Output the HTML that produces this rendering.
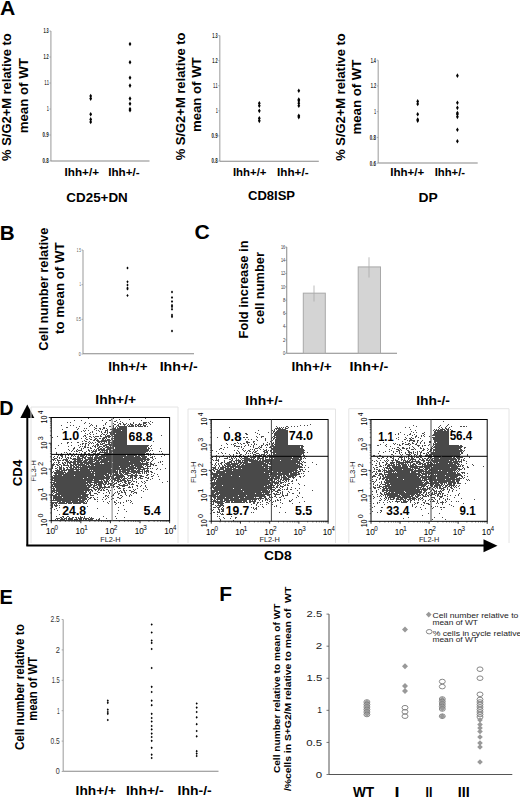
<!DOCTYPE html>
<html><head><meta charset="utf-8"><style>
html,body{margin:0;padding:0;background:#fff;width:520px;height:797px;overflow:hidden}
svg{display:block}
text{font-family:"Liberation Sans",sans-serif}
</style></head><body>
<svg width="520" height="797" viewBox="0 0 520 797">
<text x="0.07" y="14.60" font-size="20" font-weight="bold" fill="#000" textLength="15.29" lengthAdjust="spacingAndGlyphs">A</text>
<text x="-0.18" y="239.60" font-size="20" font-weight="bold" fill="#000" textLength="14.92" lengthAdjust="spacingAndGlyphs">B</text>
<text x="194.53" y="239.30" font-size="20" font-weight="bold" fill="#000" textLength="15.24" lengthAdjust="spacingAndGlyphs">C</text>
<text x="-0.72" y="415.00" font-size="20" font-weight="bold" fill="#000" textLength="14.25" lengthAdjust="spacingAndGlyphs">D</text>
<text x="-0.44" y="603.50" font-size="20" font-weight="bold" fill="#000" textLength="13.32" lengthAdjust="spacingAndGlyphs">E</text>
<text x="219.20" y="601.00" font-size="20" font-weight="bold" fill="#000" textLength="12.76" lengthAdjust="spacingAndGlyphs">F</text>
<line x1="50.9" y1="31" x2="50.9" y2="161" stroke="#aaa" stroke-width="1.2"/>
<line x1="50.9" y1="161" x2="149.5" y2="161" stroke="#888" stroke-width="1.1"/>
<line x1="49.4" y1="31.0" x2="50.9" y2="31.0" stroke="#999" stroke-width="0.8"/>
<text x="43.41" y="33.41" font-size="7" font-weight="bold" fill="#222" textLength="5.32" lengthAdjust="spacingAndGlyphs">1.3</text>
<line x1="49.4" y1="57.00000000000003" x2="50.9" y2="57.00000000000003" stroke="#999" stroke-width="0.8"/>
<text x="43.41" y="59.42" font-size="7" font-weight="bold" fill="#222" textLength="5.34" lengthAdjust="spacingAndGlyphs">1.2</text>
<line x1="49.4" y1="82.99999999999999" x2="50.9" y2="82.99999999999999" stroke="#999" stroke-width="0.8"/>
<text x="44.38" y="85.41" font-size="7" font-weight="bold" fill="#222" textLength="4.31" lengthAdjust="spacingAndGlyphs">1.1</text>
<line x1="49.4" y1="109.00000000000001" x2="50.9" y2="109.00000000000001" stroke="#999" stroke-width="0.8"/>
<text x="47.03" y="111.42" font-size="7" font-weight="bold" fill="#222" textLength="1.65" lengthAdjust="spacingAndGlyphs">1</text>
<line x1="49.4" y1="135.0" x2="50.9" y2="135.0" stroke="#999" stroke-width="0.8"/>
<text x="42.56" y="137.41" font-size="7" font-weight="bold" fill="#222" textLength="6.21" lengthAdjust="spacingAndGlyphs">0.9</text>
<line x1="49.4" y1="161.0" x2="50.9" y2="161.0" stroke="#999" stroke-width="0.8"/>
<text x="42.56" y="163.41" font-size="7" font-weight="bold" fill="#222" textLength="6.18" lengthAdjust="spacingAndGlyphs">0.8</text>
<path d="M90.7 93.7l1.38 2.3l-1.38 2.3l-1.38 -2.3z" fill="#000"/>
<path d="M90.7 96.3l1.38 2.3l-1.38 2.3l-1.38 -2.3z" fill="#000"/>
<path d="M90.7 111.90000000000002l1.38 2.3l-1.38 2.3l-1.38 -2.3z" fill="#000"/>
<path d="M90.7 117.10000000000002l1.38 2.3l-1.38 2.3l-1.38 -2.3z" fill="#000"/>
<path d="M90.7 119.70000000000003l1.38 2.3l-1.38 2.3l-1.38 -2.3z" fill="#000"/>
<path d="M130 41.70000000000002l1.38 2.3l-1.38 2.3l-1.38 -2.3z" fill="#000"/>
<path d="M130 59.900000000000034l1.38 2.3l-1.38 2.3l-1.38 -2.3z" fill="#000"/>
<path d="M130 75.49999999999999l1.38 2.3l-1.38 2.3l-1.38 -2.3z" fill="#000"/>
<path d="M130 83.3l1.38 2.3l-1.38 2.3l-1.38 -2.3z" fill="#000"/>
<path d="M130 96.3l1.38 2.3l-1.38 2.3l-1.38 -2.3z" fill="#000"/>
<path d="M130 101.50000000000001l1.38 2.3l-1.38 2.3l-1.38 -2.3z" fill="#000"/>
<path d="M130 106.70000000000002l1.38 2.3l-1.38 2.3l-1.38 -2.3z" fill="#000"/>
<path d="M130 108.00000000000001l1.38 2.3l-1.38 2.3l-1.38 -2.3z" fill="#000"/>
<text x="11.30" y="160.92" font-size="13" font-weight="bold" fill="#000" textLength="127.63" lengthAdjust="spacingAndGlyphs" transform="rotate(-90 11.30 160.92)">% S/G2+M relative to</text>
<text x="27.80" y="133.27" font-size="13" font-weight="bold" fill="#000" textLength="75.01" lengthAdjust="spacingAndGlyphs" transform="rotate(-90 27.80 133.27)">mean of WT</text>
<text x="64.62" y="175.80" font-size="11.3" font-weight="bold" fill="#000" textLength="34.35" lengthAdjust="spacingAndGlyphs">Ihh+/+</text>
<text x="108.22" y="175.80" font-size="11.3" font-weight="bold" fill="#000" textLength="31.45" lengthAdjust="spacingAndGlyphs">Ihh+/-</text>
<text x="66.35" y="202.20" font-size="12.5" font-weight="bold" fill="#000" textLength="61.45" lengthAdjust="spacingAndGlyphs">CD25+DN</text>
<line x1="219.8" y1="35.6" x2="219.8" y2="161.3" stroke="#aaa" stroke-width="1.2"/>
<line x1="219.8" y1="161.3" x2="318.8" y2="161.3" stroke="#888" stroke-width="1.1"/>
<line x1="218.3" y1="35.599999999999994" x2="219.8" y2="35.599999999999994" stroke="#999" stroke-width="0.8"/>
<text x="212.31" y="38.01" font-size="7" font-weight="bold" fill="#222" textLength="5.32" lengthAdjust="spacingAndGlyphs">1.3</text>
<line x1="218.3" y1="60.68000000000002" x2="219.8" y2="60.68000000000002" stroke="#999" stroke-width="0.8"/>
<text x="212.31" y="63.10" font-size="7" font-weight="bold" fill="#222" textLength="5.34" lengthAdjust="spacingAndGlyphs">1.2</text>
<line x1="218.3" y1="85.75999999999999" x2="219.8" y2="85.75999999999999" stroke="#999" stroke-width="0.8"/>
<text x="213.28" y="88.17" font-size="7" font-weight="bold" fill="#222" textLength="4.31" lengthAdjust="spacingAndGlyphs">1.1</text>
<line x1="218.3" y1="110.84" x2="219.8" y2="110.84" stroke="#999" stroke-width="0.8"/>
<text x="215.93" y="113.26" font-size="7" font-weight="bold" fill="#222" textLength="1.65" lengthAdjust="spacingAndGlyphs">1</text>
<line x1="218.3" y1="135.92000000000002" x2="219.8" y2="135.92000000000002" stroke="#999" stroke-width="0.8"/>
<text x="211.46" y="138.34" font-size="7" font-weight="bold" fill="#222" textLength="6.21" lengthAdjust="spacingAndGlyphs">0.9</text>
<line x1="218.3" y1="161.0" x2="219.8" y2="161.0" stroke="#999" stroke-width="0.8"/>
<text x="211.46" y="163.41" font-size="7" font-weight="bold" fill="#222" textLength="6.18" lengthAdjust="spacingAndGlyphs">0.8</text>
<path d="M259.3 101.016l1.38 2.3l-1.38 2.3l-1.38 -2.3z" fill="#000"/>
<path d="M259.3 103.52400000000002l1.38 2.3l-1.38 2.3l-1.38 -2.3z" fill="#000"/>
<path d="M259.3 108.54l1.38 2.3l-1.38 2.3l-1.38 -2.3z" fill="#000"/>
<path d="M259.3 116.06400000000002l1.38 2.3l-1.38 2.3l-1.38 -2.3z" fill="#000"/>
<path d="M259.3 118.57200000000002l1.38 2.3l-1.38 2.3l-1.38 -2.3z" fill="#000"/>
<path d="M298.8 88.476l1.38 2.3l-1.38 2.3l-1.38 -2.3z" fill="#000"/>
<path d="M298.8 97.25400000000003l1.38 2.3l-1.38 2.3l-1.38 -2.3z" fill="#000"/>
<path d="M298.8 98.508l1.38 2.3l-1.38 2.3l-1.38 -2.3z" fill="#000"/>
<path d="M298.8 101.016l1.38 2.3l-1.38 2.3l-1.38 -2.3z" fill="#000"/>
<path d="M298.8 103.52400000000002l1.38 2.3l-1.38 2.3l-1.38 -2.3z" fill="#000"/>
<path d="M298.8 113.55600000000003l1.38 2.3l-1.38 2.3l-1.38 -2.3z" fill="#000"/>
<path d="M298.8 114.81000000000002l1.38 2.3l-1.38 2.3l-1.38 -2.3z" fill="#000"/>
<text x="185.00" y="160.32" font-size="13" font-weight="bold" fill="#000" textLength="127.83" lengthAdjust="spacingAndGlyphs" transform="rotate(-90 185.00 160.32)">% S/G2+M relative to</text>
<text x="201.00" y="132.07" font-size="13" font-weight="bold" fill="#000" textLength="74.71" lengthAdjust="spacingAndGlyphs" transform="rotate(-90 201.00 132.07)">mean of WT</text>
<text x="232.94" y="176.20" font-size="11.3" font-weight="bold" fill="#000" textLength="33.52" lengthAdjust="spacingAndGlyphs">Ihh+/+</text>
<text x="277.12" y="176.20" font-size="11.3" font-weight="bold" fill="#000" textLength="31.45" lengthAdjust="spacingAndGlyphs">Ihh+/-</text>
<text x="247.97" y="199.60" font-size="12.5" font-weight="bold" fill="#000" textLength="47.08" lengthAdjust="spacingAndGlyphs">CD8ISP</text>
<line x1="378.2" y1="60.2" x2="378.2" y2="163" stroke="#aaa" stroke-width="1.2"/>
<line x1="378.2" y1="163" x2="477.7" y2="163" stroke="#888" stroke-width="1.1"/>
<line x1="376.7" y1="60.2" x2="378.2" y2="60.2" stroke="#999" stroke-width="0.8"/>
<text x="370.72" y="62.62" font-size="7" font-weight="bold" fill="#222" textLength="5.20" lengthAdjust="spacingAndGlyphs">1.4</text>
<line x1="376.7" y1="85.94999999999999" x2="378.2" y2="85.94999999999999" stroke="#999" stroke-width="0.8"/>
<text x="370.71" y="88.36" font-size="7" font-weight="bold" fill="#222" textLength="5.34" lengthAdjust="spacingAndGlyphs">1.2</text>
<line x1="376.7" y1="111.69999999999999" x2="378.2" y2="111.69999999999999" stroke="#999" stroke-width="0.8"/>
<text x="374.33" y="114.11" font-size="7" font-weight="bold" fill="#222" textLength="1.65" lengthAdjust="spacingAndGlyphs">1</text>
<line x1="376.7" y1="137.45" x2="378.2" y2="137.45" stroke="#999" stroke-width="0.8"/>
<text x="369.86" y="139.86" font-size="7" font-weight="bold" fill="#222" textLength="6.18" lengthAdjust="spacingAndGlyphs">0.8</text>
<line x1="376.7" y1="163.2" x2="378.2" y2="163.2" stroke="#999" stroke-width="0.8"/>
<text x="369.86" y="165.61" font-size="7" font-weight="bold" fill="#222" textLength="6.20" lengthAdjust="spacingAndGlyphs">0.6</text>
<path d="M417.7 99.09999999999998l1.38 2.3l-1.38 2.3l-1.38 -2.3z" fill="#000"/>
<path d="M417.7 101.67499999999998l1.38 2.3l-1.38 2.3l-1.38 -2.3z" fill="#000"/>
<path d="M417.7 111.975l1.38 2.3l-1.38 2.3l-1.38 -2.3z" fill="#000"/>
<path d="M417.7 117.125l1.38 2.3l-1.38 2.3l-1.38 -2.3z" fill="#000"/>
<path d="M417.7 118.41249999999998l1.38 2.3l-1.38 2.3l-1.38 -2.3z" fill="#000"/>
<path d="M457.4 73.35l1.38 2.3l-1.38 2.3l-1.38 -2.3z" fill="#000"/>
<path d="M457.4 100.38749999999997l1.38 2.3l-1.38 2.3l-1.38 -2.3z" fill="#000"/>
<path d="M457.4 105.53749999999998l1.38 2.3l-1.38 2.3l-1.38 -2.3z" fill="#000"/>
<path d="M457.4 110.68749999999999l1.38 2.3l-1.38 2.3l-1.38 -2.3z" fill="#000"/>
<path d="M457.4 111.975l1.38 2.3l-1.38 2.3l-1.38 -2.3z" fill="#000"/>
<path d="M457.4 114.55l1.38 2.3l-1.38 2.3l-1.38 -2.3z" fill="#000"/>
<path d="M457.4 127.425l1.38 2.3l-1.38 2.3l-1.38 -2.3z" fill="#000"/>
<path d="M457.4 139.0125l1.38 2.3l-1.38 2.3l-1.38 -2.3z" fill="#000"/>
<text x="344.60" y="160.72" font-size="13" font-weight="bold" fill="#000" textLength="127.33" lengthAdjust="spacingAndGlyphs" transform="rotate(-90 344.60 160.72)">% S/G2+M relative to</text>
<text x="360.60" y="134.47" font-size="13" font-weight="bold" fill="#000" textLength="74.81" lengthAdjust="spacingAndGlyphs" transform="rotate(-90 360.60 134.47)">mean of WT</text>
<text x="390.23" y="175.80" font-size="11.3" font-weight="bold" fill="#000" textLength="34.04" lengthAdjust="spacingAndGlyphs">Ihh+/+</text>
<text x="434.65" y="175.80" font-size="11.3" font-weight="bold" fill="#000" textLength="30.41" lengthAdjust="spacingAndGlyphs">Ihh+/-</text>
<text x="418.47" y="202.30" font-size="12.5" font-weight="bold" fill="#000" textLength="19.30" lengthAdjust="spacingAndGlyphs">DP</text>
<line x1="83" y1="250" x2="83" y2="353.8" stroke="#aaa" stroke-width="1.2"/>
<line x1="83" y1="353.8" x2="194" y2="353.8" stroke="#888" stroke-width="1.1"/>
<line x1="81.5" y1="250.0" x2="83" y2="250.0" stroke="#999" stroke-width="0.8"/>
<text x="76.83" y="251.72" font-size="5" fill="#444" textLength="3.99" lengthAdjust="spacingAndGlyphs">1.5</text>
<line x1="81.5" y1="284.6666666666667" x2="83" y2="284.6666666666667" stroke="#999" stroke-width="0.8"/>
<text x="79.50" y="286.39" font-size="5" fill="#444" textLength="1.32" lengthAdjust="spacingAndGlyphs">1</text>
<line x1="81.5" y1="319.3333333333333" x2="83" y2="319.3333333333333" stroke="#999" stroke-width="0.8"/>
<text x="76.24" y="321.06" font-size="5" fill="#444" textLength="4.60" lengthAdjust="spacingAndGlyphs">0.5</text>
<line x1="81.5" y1="354.0" x2="83" y2="354.0" stroke="#999" stroke-width="0.8"/>
<text x="78.86" y="355.73" font-size="5" fill="#444" textLength="1.98" lengthAdjust="spacingAndGlyphs">0</text>
<path d="M127.5 266.5l1.125 1.5l-1.125 1.5l-1.125 -1.5z" fill="#000"/>
<path d="M127.5 280.25l1.125 1.5l-1.125 1.5l-1.125 -1.5z" fill="#000"/>
<path d="M127.5 283.5l1.125 1.5l-1.125 1.5l-1.125 -1.5z" fill="#000"/>
<path d="M127.5 286.5l1.125 1.5l-1.125 1.5l-1.125 -1.5z" fill="#000"/>
<path d="M127.5 287.5l1.125 1.5l-1.125 1.5l-1.125 -1.5z" fill="#000"/>
<path d="M127.5 294.0l1.125 1.5l-1.125 1.5l-1.125 -1.5z" fill="#000"/>
<path d="M172 290.5l1.125 1.5l-1.125 1.5l-1.125 -1.5z" fill="#000"/>
<path d="M172 296.0l1.125 1.5l-1.125 1.5l-1.125 -1.5z" fill="#000"/>
<path d="M172 299.9l1.125 1.5l-1.125 1.5l-1.125 -1.5z" fill="#000"/>
<path d="M172 303.7l1.125 1.5l-1.125 1.5l-1.125 -1.5z" fill="#000"/>
<path d="M172 305.3l1.125 1.5l-1.125 1.5l-1.125 -1.5z" fill="#000"/>
<path d="M172 307.7l1.125 1.5l-1.125 1.5l-1.125 -1.5z" fill="#000"/>
<path d="M172 313.5l1.125 1.5l-1.125 1.5l-1.125 -1.5z" fill="#000"/>
<path d="M172 315.25l1.125 1.5l-1.125 1.5l-1.125 -1.5z" fill="#000"/>
<path d="M172 329.5l1.125 1.5l-1.125 1.5l-1.125 -1.5z" fill="#000"/>
<text x="48.50" y="350.63" font-size="13.2" font-weight="bold" fill="#000" textLength="123.07" lengthAdjust="spacingAndGlyphs" transform="rotate(-90 48.50 350.63)">Cell number relative</text>
<text x="64.30" y="333.91" font-size="13.2" font-weight="bold" fill="#000" textLength="91.45" lengthAdjust="spacingAndGlyphs" transform="rotate(-90 64.30 333.91)">to mean of WT</text>
<text x="108.31" y="370.80" font-size="13" font-weight="bold" fill="#000" textLength="39.33" lengthAdjust="spacingAndGlyphs">Ihh+/+</text>
<text x="159.66" y="370.80" font-size="13" font-weight="bold" fill="#000" textLength="38.01" lengthAdjust="spacingAndGlyphs">Ihh+/-</text>
<line x1="286.75" y1="247" x2="286.75" y2="353.25" stroke="#888" stroke-width="1"/>
<line x1="286.75" y1="353.25" x2="397" y2="353.25" stroke="#888" stroke-width="1"/>
<line x1="285.25" y1="353.25" x2="286.75" y2="353.25" stroke="#888" stroke-width="0.8"/>
<text x="282.94" y="355.05" font-size="5.5" fill="#333" textLength="2.21" lengthAdjust="spacingAndGlyphs">0</text>
<line x1="285.25" y1="339.96875" x2="286.75" y2="339.96875" stroke="#888" stroke-width="0.8"/>
<text x="282.89" y="341.77" font-size="5.5" fill="#333" textLength="2.32" lengthAdjust="spacingAndGlyphs">2</text>
<line x1="285.25" y1="326.6875" x2="286.75" y2="326.6875" stroke="#888" stroke-width="0.8"/>
<text x="283.01" y="328.49" font-size="5.5" fill="#333" textLength="2.10" lengthAdjust="spacingAndGlyphs">4</text>
<line x1="285.25" y1="313.40625" x2="286.75" y2="313.40625" stroke="#888" stroke-width="0.8"/>
<text x="282.89" y="315.21" font-size="5.5" fill="#333" textLength="2.29" lengthAdjust="spacingAndGlyphs">6</text>
<line x1="285.25" y1="300.125" x2="286.75" y2="300.125" stroke="#888" stroke-width="0.8"/>
<text x="282.92" y="301.93" font-size="5.5" fill="#333" textLength="2.25" lengthAdjust="spacingAndGlyphs">8</text>
<line x1="285.25" y1="286.84375" x2="286.75" y2="286.84375" stroke="#888" stroke-width="0.8"/>
<text x="280.91" y="288.64" font-size="5.5" fill="#333" textLength="4.24" lengthAdjust="spacingAndGlyphs">10</text>
<line x1="285.25" y1="273.5625" x2="286.75" y2="273.5625" stroke="#888" stroke-width="0.8"/>
<text x="280.91" y="275.36" font-size="5.5" fill="#333" textLength="4.29" lengthAdjust="spacingAndGlyphs">12</text>
<line x1="285.25" y1="260.28125" x2="286.75" y2="260.28125" stroke="#888" stroke-width="0.8"/>
<text x="280.91" y="262.08" font-size="5.5" fill="#333" textLength="4.20" lengthAdjust="spacingAndGlyphs">14</text>
<line x1="285.25" y1="247.0" x2="286.75" y2="247.0" stroke="#888" stroke-width="0.8"/>
<text x="280.91" y="248.80" font-size="5.5" fill="#333" textLength="4.26" lengthAdjust="spacingAndGlyphs">16</text>
<rect x="303.3" y="293.15234375" width="22" height="60.09765625" fill="#d4d4d4" stroke="#a8a8a8" stroke-width="1"/>
<rect x="358.2" y="266.921875" width="22.3" height="86.328125" fill="#d4d4d4" stroke="#a8a8a8" stroke-width="1"/>
<line x1="314" y1="285.5" x2="314" y2="301.5" stroke="#aaa" stroke-width="0.8"/>
<line x1="369" y1="257.3" x2="369" y2="277.5" stroke="#aaa" stroke-width="0.8"/>
<text x="247.80" y="338.46" font-size="12.8" font-weight="bold" fill="#000" textLength="98.01" lengthAdjust="spacingAndGlyphs" transform="rotate(-90 247.80 338.46)">Fold increase in</text>
<text x="263.70" y="324.20" font-size="12.8" font-weight="bold" fill="#000" textLength="72.10" lengthAdjust="spacingAndGlyphs" transform="rotate(-90 263.70 324.20)">cell number</text>
<text x="291.49" y="371.10" font-size="13" font-weight="bold" fill="#000" textLength="40.16" lengthAdjust="spacingAndGlyphs">Ihh+/+</text>
<text x="349.64" y="371.10" font-size="13" font-weight="bold" fill="#000" textLength="38.53" lengthAdjust="spacingAndGlyphs">Ihh+/-</text>
<defs><filter id="bl" x="0" y="0" width="1" height="1"><feGaussianBlur stdDeviation="0.4"/></filter></defs>
<g filter="url(#bl)"><path d="M88 418h1M113 418h1M145 418h1M111 419h1M119 419h1M129 419h1M74 420h1M81 420h1M102 420h1M109 420h2M116 420h1M141 420h1M114 421h2M120 421h1M150 421h1M67 422h1M70 422h1M85 422h1M106 422h1M117 422h1M122 422h1M133 422h1M143 422h4M148 422h1M152 422h1M84 423h1M89 423h1M105 423h1M113 423h1M119 423h2M123 423h1M126 423h1M130 423h1M133 423h1M139 423h1M143 423h3M149 423h1M91 424h1M105 424h1M114 424h2M118 424h1M120 424h1M123 424h3M128 424h1M130 424h3M135 424h2M138 424h4M143 424h1M146 424h1M150 424h1M61 425h1M70 425h1M73 425h1M90 425h1M92 425h1M96 425h1M103 425h1M113 425h1M117 425h2M124 425h1M127 425h1M129 425h1M131 425h3M135 425h1M137 425h2M140 425h1M143 425h3M79 426h1M89 426h1M96 426h1M109 426h2M113 426h1M116 426h1M118 426h9M128 426h6M135 426h2M138 426h5M144 426h2M147 426h1M66 427h2M76 427h1M94 427h1M103 427h2M113 427h1M115 427h1M117 427h1M119 427h8M78 428h1M84 428h1M86 428h1M95 428h2M99 428h2M103 428h2M106 428h1M112 428h4M117 428h10M62 429h1M77 429h1M94 429h1M100 429h1M102 429h1M107 429h1M110 429h17M83 430h1M85 430h1M88 430h1M96 430h1M98 430h1M105 430h3M112 430h9M122 430h5M81 431h1M84 431h1M92 431h1M99 431h1M101 431h1M105 431h1M107 431h1M111 431h16M90 432h1M92 432h1M101 432h1M104 432h2M107 432h1M109 432h18M85 433h1M89 433h1M96 433h1M102 433h1M107 433h1M110 433h5M116 433h11M87 434h1M90 434h1M93 434h1M101 434h1M103 434h2M106 434h1M110 434h17M84 435h2M100 435h1M105 435h1M107 435h3M111 435h2M114 435h13M161 435h1M57 436h1M83 436h1M85 436h1M89 436h2M93 436h1M95 436h4M100 436h2M105 436h6M112 436h15M52 437h1M86 437h1M91 437h1M94 437h1M103 437h4M108 437h2M112 437h1M114 437h13M81 438h1M85 438h1M89 438h1M95 438h2M99 438h2M102 438h3M106 438h1M111 438h16M86 439h2M90 439h2M94 439h2M97 439h1M102 439h2M105 439h1M107 439h3M111 439h2M114 439h13M84 440h1M93 440h2M96 440h3M101 440h10M112 440h15M82 441h1M85 441h2M89 441h1M97 441h10M108 441h2M112 441h15M153 441h1M67 442h2M71 442h1M77 442h2M88 442h1M90 442h1M92 442h1M95 442h1M98 442h2M101 442h1M104 442h1M106 442h1M108 442h19M61 443h1M67 443h1M82 443h2M85 443h2M89 443h1M91 443h1M93 443h1M97 443h1M100 443h1M102 443h3M108 443h2M111 443h16M80 444h1M82 444h1M85 444h1M88 444h1M96 444h3M100 444h3M105 444h22M58 445h1M71 445h1M78 445h1M85 445h1M88 445h1M93 445h1M95 445h1M97 445h2M103 445h4M109 445h40M151 445h1M68 446h1M80 446h1M82 446h1M84 446h2M92 446h1M94 446h2M97 446h1M99 446h3M103 446h2M106 446h3M110 446h1M112 446h36M150 446h1M74 447h1M79 447h1M84 447h2M87 447h2M90 447h1M95 447h1M98 447h2M102 447h1M105 447h9M115 447h32M148 447h1M55 448h1M73 448h2M81 448h1M83 448h1M90 448h2M97 448h2M100 448h2M103 448h2M107 448h7M115 448h32M148 448h2M151 448h1M160 448h1M68 449h1M73 449h1M77 449h1M81 449h1M88 449h1M94 449h1M96 449h1M98 449h7M106 449h5M113 449h36M69 450h1M72 450h1M76 450h1M78 450h4M88 450h2M91 450h1M93 450h1M95 450h2M98 450h2M101 450h7M109 450h40M150 450h1M152 450h1M71 451h1M74 451h1M76 451h2M82 451h1M86 451h1M89 451h1M92 451h5M100 451h1M102 451h1M104 451h1M106 451h2M109 451h39M149 451h1M159 451h1M161 451h1M56 452h1M64 452h1M66 452h1M79 452h1M84 452h2M91 452h2M95 452h1M99 452h9M109 452h3M113 452h33M56 453h1M61 453h1M67 453h1M69 453h2M73 453h1M76 453h1M81 453h1M84 453h2M88 453h2M93 453h3M97 453h3M104 453h41M146 453h3M150 453h1M153 453h1M162 453h1M56 454h3M60 454h4M67 454h2M70 454h1M75 454h2M79 454h3M84 454h4M89 454h1M92 454h1M94 454h1M96 454h9M106 454h43M151 454h1M58 455h1M60 455h3M65 455h1M68 455h1M71 455h2M74 455h1M78 455h1M80 455h5M86 455h1M88 455h6M95 455h4M101 455h25M127 455h10M138 455h7M148 455h1M150 455h1M164 455h1M54 456h1M57 456h1M61 456h2M65 456h1M71 456h1M73 456h1M75 456h1M77 456h2M80 456h4M85 456h2M90 456h1M92 456h1M95 456h3M99 456h35M135 456h5M141 456h6M152 456h1M154 456h1M161 456h1M53 457h1M57 457h1M59 457h1M62 457h1M65 457h1M67 457h2M70 457h1M77 457h3M82 457h4M87 457h6M94 457h11M106 457h17M124 457h17M142 457h5M150 457h3M54 458h3M59 458h1M61 458h1M66 458h1M68 458h1M70 458h2M73 458h3M77 458h6M84 458h2M88 458h5M94 458h8M103 458h43M147 458h2M152 458h1M155 458h1M52 459h3M57 459h1M63 459h5M72 459h9M82 459h1M85 459h12M98 459h52M153 459h1M53 460h1M55 460h1M57 460h4M62 460h2M65 460h3M69 460h1M74 460h2M77 460h6M84 460h4M89 460h4M94 460h6M101 460h42M144 460h2M147 460h2M152 460h1M58 461h1M66 461h3M70 461h2M73 461h9M83 461h4M88 461h7M96 461h3M100 461h8M109 461h20M130 461h10M141 461h4M146 461h1M151 461h1M160 461h1M162 461h1M54 462h1M56 462h1M58 462h2M62 462h1M64 462h2M67 462h9M77 462h16M95 462h17M113 462h28M142 462h1M146 462h3M150 462h1M158 462h1M160 462h1M53 463h1M58 463h1M62 463h2M65 463h1M67 463h1M69 463h2M73 463h3M77 463h2M80 463h3M84 463h16M101 463h1M104 463h44M150 463h2M154 463h1M52 464h3M56 464h2M59 464h2M63 464h2M67 464h1M70 464h2M73 464h12M86 464h3M90 464h43M134 464h15M150 464h4M162 464h1M52 465h2M57 465h2M61 465h1M63 465h6M70 465h4M75 465h2M78 465h9M88 465h2M91 465h3M95 465h35M131 465h11M143 465h1M146 465h2M150 465h1M153 465h1M155 465h2M52 466h1M55 466h1M59 466h1M61 466h1M68 466h1M70 466h2M73 466h2M76 466h3M80 466h1M82 466h37M120 466h14M135 466h8M145 466h1M147 466h4M52 467h1M57 467h1M59 467h3M63 467h1M66 467h2M69 467h3M73 467h55M129 467h7M137 467h7M147 467h1M52 468h1M55 468h2M59 468h3M63 468h2M67 468h1M70 468h4M75 468h2M78 468h1M80 468h8M89 468h22M112 468h8M121 468h5M127 468h14M143 468h6M150 468h1M152 468h1M157 468h1M165 468h1M57 469h1M59 469h3M63 469h2M66 469h68M136 469h1M138 469h7M147 469h1M156 469h1M160 469h1M55 470h5M61 470h6M68 470h6M76 470h3M80 470h10M91 470h1M93 470h23M117 470h1M119 470h2M122 470h8M131 470h5M137 470h3M142 470h1M144 470h1M146 470h3M53 471h1M56 471h7M64 471h1M68 471h50M119 471h7M127 471h16M144 471h5M150 471h2M52 472h1M54 472h12M67 472h24M92 472h2M95 472h23M119 472h2M122 472h7M131 472h9M142 472h1M144 472h1M146 472h1M148 472h1M151 472h2M54 473h10M65 473h42M108 473h4M113 473h1M115 473h3M119 473h3M123 473h1M125 473h6M133 473h2M136 473h1M138 473h3M142 473h1M144 473h1M146 473h1M154 473h1M55 474h2M58 474h36M95 474h14M110 474h2M113 474h6M120 474h3M124 474h4M131 474h2M135 474h2M147 474h2M151 474h1M157 474h1M53 475h9M63 475h11M75 475h19M95 475h9M105 475h4M110 475h1M112 475h12M127 475h11M139 475h3M146 475h2M153 475h1M52 476h1M54 476h51M106 476h8M116 476h9M128 476h1M130 476h3M134 476h3M140 476h4M151 476h2M158 476h1M52 477h35M88 477h22M111 477h3M115 477h8M124 477h1M127 477h1M130 477h3M135 477h2M139 477h2M145 477h2M148 477h1M52 478h31M84 478h26M111 478h9M121 478h1M123 478h4M128 478h3M132 478h1M134 478h2M138 478h1M140 478h3M147 478h2M152 478h1M52 479h1M54 479h39M94 479h10M106 479h3M110 479h1M112 479h4M117 479h4M122 479h3M127 479h1M132 479h1M136 479h1M150 479h1M159 479h1M52 480h47M101 480h1M103 480h2M106 480h2M109 480h1M111 480h2M114 480h5M120 480h6M127 480h4M132 480h1M146 480h2M54 481h32M87 481h5M94 481h9M104 481h5M111 481h2M114 481h1M117 481h5M124 481h3M128 481h1M131 481h1M133 481h2M136 481h1M141 481h1M144 481h1M167 481h1M52 482h3M56 482h47M104 482h3M108 482h1M112 482h2M116 482h1M118 482h1M122 482h1M124 482h2M128 482h3M136 482h1M142 482h1M145 482h1M162 482h1M53 483h35M89 483h2M94 483h3M98 483h6M105 483h2M108 483h5M114 483h3M120 483h1M125 483h2M128 483h2M132 483h1M138 483h1M144 483h1M52 484h34M87 484h2M90 484h3M94 484h1M96 484h6M103 484h3M107 484h2M110 484h2M113 484h2M118 484h2M123 484h2M127 484h1M129 484h1M131 484h3M52 485h1M54 485h38M93 485h4M98 485h4M104 485h1M110 485h4M119 485h9M136 485h2M141 485h1M145 485h1M52 486h35M88 486h3M93 486h2M97 486h1M99 486h3M104 486h2M108 486h2M113 486h2M116 486h3M122 486h3M129 486h1M132 486h1M137 486h1M140 486h1M145 486h1M53 487h1M55 487h35M91 487h3M95 487h3M99 487h11M111 487h1M113 487h1M117 487h1M119 487h1M128 487h3M132 487h1M146 487h1M52 488h3M56 488h33M93 488h2M97 488h4M102 488h1M104 488h1M118 488h3M123 488h2M137 488h1M143 488h1M53 489h2M56 489h36M94 489h3M98 489h2M101 489h1M103 489h1M106 489h2M114 489h1M123 489h1M133 489h1M135 489h1M145 489h1M147 489h1M52 490h38M91 490h2M95 490h1M98 490h1M100 490h2M103 490h2M108 490h1M110 490h1M120 490h1M123 490h2M126 490h1M129 490h2M134 490h1M141 490h1M52 491h3M56 491h28M85 491h2M88 491h1M90 491h1M92 491h1M97 491h1M108 491h1M117 491h1M119 491h1M121 491h1M124 491h1M131 491h3M143 491h1M52 492h1M54 492h3M58 492h29M89 492h2M98 492h2M106 492h1M109 492h1M115 492h1M117 492h1M121 492h2M124 492h2M131 492h1M134 492h3M53 493h1M56 493h30M89 493h2M94 493h3M103 493h1M109 493h1M114 493h1M118 493h2M125 493h1M133 493h1M136 493h1M52 494h1M55 494h34M90 494h1M97 494h1M113 494h1M118 494h1M125 494h1M130 494h1M52 495h5M58 495h2M61 495h20M82 495h6M90 495h4M105 495h2M108 495h1M112 495h2M120 495h2M126 495h1M129 495h1M131 495h1M53 496h35M105 496h1M107 496h1M111 496h1M122 496h1M129 496h1M53 497h9M63 497h23M87 497h2M90 497h2M93 497h1M97 497h1M103 497h1M108 497h1M117 497h2M121 497h1M141 497h1M53 498h25M79 498h8M89 498h2M94 498h1M106 498h1M112 498h2M119 498h2M53 499h1M55 499h26M82 499h5M88 499h1M94 499h2M97 499h1M102 499h1M105 499h1M111 499h1M52 500h33M87 500h1M116 500h1M126 500h1M128 500h1M130 500h1M57 501h4M62 501h9M72 501h6M79 501h5M85 501h1M87 501h1M97 501h1M103 501h1M109 501h1M114 501h1M126 501h1M131 501h1M52 502h6M59 502h6M66 502h19M86 502h1M107 502h1M114 502h2M118 502h1M120 502h1M123 502h1M130 502h1M52 503h2M55 503h2M58 503h9M68 503h4M73 503h8M83 503h4M108 503h1M116 503h1M120 503h1M132 503h1M52 504h1M54 504h1M56 504h1M115 504h1M52 505h1M54 505h4M59 505h1M123 505h1M52 506h1M55 506h2M87 506h1M52 507h1M59 507h1M118 507h1M56 508h1M97 508h1M54 509h1M124 509h1M57 510h1M118 510h1M126 511h1M117 513h1M59 514h1M56 516h1M62 516h2M67 516h2M80 516h1M84 516h1M103 516h1M115 516h1M60 517h2M63 517h1M66 517h1M69 517h1M72 517h2M75 517h2M78 517h1M80 517h3M84 517h1M89 517h1M91 517h1M124 517h1M56 518h4M61 518h2M64 518h3M68 518h5M76 518h1M78 518h4M83 518h6M90 518h4M99 518h1M106 518h1M116 518h1M55 519h1M57 519h1M60 519h5M66 519h1M68 519h5M74 519h4M79 519h3M83 519h1M85 519h2M88 519h5M96 519h1M98 519h2M310 424h1M300 425h1M304 425h1M307 425h1M276 426h1M286 426h2M291 426h1M294 426h1M297 426h1M229 427h1M277 427h1M279 427h1M281 427h1M283 427h1M285 427h1M288 427h1M275 428h6M282 428h1M285 428h3M274 429h1M276 429h1M278 429h8M258 430h1M272 430h1M274 430h1M277 430h11M273 431h2M276 431h12M255 432h1M268 432h1M273 432h1M275 432h13M245 433h2M257 433h1M272 433h1M274 433h14M246 434h2M259 434h1M274 434h14M274 435h14M256 436h1M261 436h3M273 436h2M276 436h12M217 437h1M243 437h2M246 437h2M257 437h1M261 437h1M272 437h1M274 437h14M265 438h1M271 438h1M273 438h2M276 438h12M245 439h1M248 439h1M251 439h1M256 439h1M265 439h1M273 439h1M275 439h13M257 440h1M265 440h1M272 440h1M275 440h13M246 441h2M253 441h2M270 441h1M275 441h13M237 442h1M246 442h4M253 442h1M267 442h1M271 442h1M273 442h1M275 442h13M226 443h1M234 443h2M238 443h1M240 443h1M243 443h2M247 443h1M254 443h1M263 443h1M269 443h1M272 443h2M275 443h13M227 444h1M231 444h1M233 444h1M241 444h1M248 444h1M251 444h1M254 444h1M256 444h1M263 444h1M266 444h2M269 444h1M272 444h1M274 444h14M221 445h1M234 445h2M245 445h1M248 445h1M253 445h1M261 445h2M265 445h1M267 445h1M272 445h2M275 445h28M234 446h1M236 446h4M241 446h1M244 446h1M250 446h1M253 446h1M259 446h1M261 446h1M270 446h1M272 446h28M301 446h3M224 447h1M227 447h1M241 447h1M253 447h1M258 447h1M260 447h2M266 447h1M269 447h2M273 447h27M301 447h2M220 448h2M238 448h1M243 448h1M255 448h3M259 448h1M271 448h32M219 449h1M223 449h1M242 449h1M250 449h1M252 449h1M254 449h1M260 449h1M263 449h1M266 449h1M272 449h32M212 450h1M234 450h1M237 450h1M243 450h1M245 450h1M248 450h2M254 450h1M257 450h1M264 450h3M268 450h1M270 450h2M273 450h32M216 451h1M238 451h1M244 451h1M247 451h1M249 451h2M253 451h1M255 451h2M263 451h2M266 451h2M270 451h1M273 451h31M221 452h1M236 452h1M239 452h1M246 452h1M252 452h1M254 452h2M264 452h4M271 452h34M307 452h1M218 453h1M222 453h1M225 453h1M236 453h2M239 453h1M246 453h1M248 453h1M250 453h1M252 453h1M256 453h3M264 453h1M267 453h1M271 453h1M273 453h2M276 453h28M229 454h1M233 454h1M240 454h2M245 454h1M253 454h3M259 454h1M261 454h4M266 454h1M269 454h1M271 454h1M273 454h29M303 454h1M216 455h1M223 455h1M230 455h1M233 455h1M236 455h1M239 455h2M243 455h1M248 455h1M250 455h1M253 455h1M255 455h7M263 455h3M267 455h34M303 455h2M215 456h1M222 456h1M226 456h1M229 456h1M232 456h2M235 456h7M243 456h3M247 456h2M253 456h3M258 456h4M263 456h3M269 456h2M272 456h29M306 456h1M212 457h1M216 457h1M219 457h1M227 457h1M229 457h1M231 457h1M233 457h1M235 457h1M239 457h1M241 457h1M244 457h4M250 457h6M257 457h3M262 457h2M265 457h3M269 457h23M293 457h9M304 457h1M216 458h1M224 458h4M231 458h2M234 458h1M236 458h1M240 458h1M242 458h8M251 458h1M253 458h2M257 458h7M265 458h1M269 458h1M271 458h2M274 458h25M300 458h2M303 458h1M305 458h1M212 459h1M216 459h1M218 459h1M229 459h2M232 459h1M236 459h1M238 459h1M241 459h1M244 459h10M255 459h1M257 459h2M260 459h1M262 459h2M265 459h26M292 459h10M213 460h1M215 460h4M224 460h1M231 460h2M235 460h6M242 460h16M259 460h2M262 460h18M281 460h17M299 460h2M218 461h1M224 461h1M229 461h3M233 461h2M236 461h1M238 461h3M242 461h1M244 461h4M249 461h51M301 461h1M303 461h1M216 462h1M221 462h2M224 462h1M227 462h5M234 462h1M236 462h1M238 462h10M251 462h13M265 462h4M270 462h30M302 462h1M304 462h2M312 462h1M215 463h1M218 463h1M220 463h2M225 463h5M231 463h8M240 463h2M243 463h23M267 463h29M297 463h5M212 464h1M215 464h1M218 464h1M221 464h1M224 464h1M226 464h12M239 464h2M242 464h2M245 464h23M269 464h29M299 464h1M301 464h2M316 464h1M214 465h1M216 465h1M219 465h1M222 465h1M224 465h2M227 465h4M232 465h4M237 465h3M241 465h21M263 465h5M271 465h29M302 465h1M305 465h1M215 466h1M219 466h1M222 466h2M225 466h77M212 467h4M218 467h1M220 467h6M227 467h2M230 467h4M235 467h29M265 467h3M269 467h34M304 467h1M308 467h1M213 468h3M218 468h1M220 468h4M225 468h7M233 468h3M238 468h3M242 468h56M299 468h1M212 469h2M215 469h3M219 469h5M225 469h43M269 469h28M299 469h4M305 469h1M213 470h2M217 470h3M223 470h9M233 470h65M300 470h1M302 470h1M214 471h1M216 471h56M273 471h21M295 471h2M298 471h3M303 471h2M308 471h1M212 472h1M216 472h9M226 472h38M265 472h12M278 472h3M282 472h10M293 472h6M212 473h57M270 473h19M290 473h7M298 473h2M301 473h1M303 473h1M212 474h6M219 474h70M290 474h10M213 475h18M232 475h37M270 475h1M272 475h5M278 475h4M283 475h2M286 475h11M304 475h1M213 476h8M222 476h17M240 476h31M272 476h8M281 476h1M283 476h3M287 476h7M295 476h1M299 476h2M303 476h1M212 477h5M218 477h52M271 477h3M275 477h5M281 477h6M288 477h3M292 477h3M300 477h1M212 478h2M215 478h65M281 478h1M283 478h6M293 478h1M212 479h4M217 479h51M269 479h4M274 479h3M278 479h1M280 479h2M283 479h7M296 479h1M212 480h1M214 480h1M216 480h57M274 480h1M277 480h2M280 480h1M282 480h2M285 480h2M288 480h1M292 480h1M296 480h1M214 481h1M216 481h54M272 481h3M276 481h1M278 481h3M284 481h1M286 481h1M288 481h1M291 481h2M212 482h59M272 482h7M280 482h4M285 482h1M212 483h59M272 483h1M274 483h5M280 483h2M288 483h2M292 483h1M298 483h1M212 484h57M270 484h3M275 484h1M277 484h1M279 484h1M283 484h1M285 484h1M287 484h1M299 484h1M212 485h3M216 485h6M223 485h44M268 485h7M277 485h2M280 485h1M284 485h2M287 485h2M304 485h1M212 486h2M215 486h49M265 486h7M273 486h1M276 486h2M280 486h4M212 487h63M276 487h2M279 487h1M282 487h1M287 487h1M291 487h1M213 488h20M234 488h38M275 488h1M280 488h1M287 488h1M295 488h1M299 488h1M214 489h27M242 489h25M268 489h1M270 489h5M278 489h2M282 489h1M284 489h1M286 489h2M290 489h2M212 490h56M269 490h1M271 490h1M273 490h2M277 490h4M297 490h1M312 490h1M212 491h6M219 491h24M244 491h17M262 491h8M271 491h2M275 491h3M282 491h1M288 491h1M212 492h3M216 492h54M271 492h1M277 492h2M280 492h1M282 492h1M289 492h1M299 492h1M212 493h2M215 493h40M256 493h6M263 493h1M265 493h4M273 493h2M276 493h1M280 493h1M282 493h1M287 493h1M292 493h2M299 493h1M212 494h7M220 494h51M274 494h6M282 494h1M287 494h1M212 495h4M217 495h1M219 495h19M239 495h7M247 495h18M267 495h3M275 495h1M282 495h2M285 495h3M297 495h1M212 496h54M269 496h1M271 496h1M274 496h2M281 496h1M283 496h1M298 496h1M213 497h3M217 497h8M226 497h7M234 497h10M245 497h9M255 497h1M259 497h3M264 497h2M269 497h2M272 497h1M276 497h1M279 497h2M296 497h1M302 497h1M214 498h2M217 498h22M240 498h24M265 498h2M268 498h1M284 498h1M212 499h1M214 499h1M216 499h7M224 499h5M230 499h27M258 499h1M260 499h1M265 499h3M269 499h1M271 499h1M277 499h1M280 499h1M292 499h1M213 500h3M217 500h1M220 500h3M224 500h23M249 500h2M252 500h1M254 500h2M259 500h1M262 500h1M265 500h1M267 500h1M270 500h1M275 500h1M277 500h2M280 500h1M289 500h1M291 500h1M212 501h13M226 501h4M231 501h2M234 501h8M243 501h4M249 501h7M262 501h1M269 501h1M273 501h1M275 501h1M289 501h2M304 501h1M213 502h1M215 502h8M225 502h5M231 502h14M246 502h2M249 502h2M253 502h2M257 502h2M260 502h1M266 502h2M272 502h1M280 502h1M299 502h1M213 503h1M217 503h7M253 503h2M257 503h1M268 503h1M282 503h1M292 503h1M212 504h2M218 504h1M220 504h3M251 504h1M256 504h1M260 504h1M262 504h1M266 504h1M272 504h1M215 505h1M217 505h7M256 505h1M276 505h1M216 506h1M219 506h2M223 506h1M258 506h1M262 506h1M274 506h1M276 506h1M213 507h3M217 507h3M222 507h1M251 507h1M253 507h1M256 507h1M263 507h1M280 507h1M218 508h1M221 508h1M223 508h1M253 508h1M255 508h2M213 509h1M218 509h2M221 509h3M254 509h1M256 509h1M212 510h1M219 510h1M222 510h2M217 511h1M219 511h1M221 511h3M213 512h2M217 512h3M251 512h1M253 512h1M279 512h1M285 512h1M220 513h1M222 513h1M217 514h1M221 514h3M217 516h1M219 516h1M231 516h1M223 517h1M235 517h2M219 518h1M224 518h1M230 518h1M235 518h1M220 519h1M220 520h1M233 520h1M443 421h1M448 424h1M413 425h1M440 425h1M447 425h1M416 426h1M439 426h1M446 426h1M451 426h1M460 426h2M463 426h2M466 426h1M405 427h1M409 427h1M438 427h1M441 427h1M445 427h1M449 427h1M439 428h1M442 428h1M445 428h2M448 428h1M410 429h1M434 429h1M436 429h1M438 429h1M440 429h5M446 429h3M450 429h1M415 430h1M433 430h1M435 430h8M444 430h2M447 430h2M451 430h2M411 431h1M434 431h2M437 431h12M400 432h1M413 432h1M416 432h1M424 432h1M434 432h15M398 433h1M410 433h1M422 433h2M434 433h15M395 434h1M398 434h1M404 434h1M409 434h2M414 434h1M424 434h1M433 434h16M407 435h1M412 435h1M416 435h1M421 435h1M423 435h1M432 435h17M415 436h2M421 436h1M424 436h1M429 436h1M435 436h14M398 437h1M405 437h1M411 437h1M415 437h1M418 437h1M432 437h17M396 438h1M406 438h1M409 438h2M412 438h2M420 438h1M433 438h16M398 439h1M404 439h2M410 439h2M433 439h16M407 440h1M409 440h6M417 440h2M422 440h1M434 440h15M402 441h1M409 441h1M413 441h2M417 441h1M421 441h1M429 441h2M434 441h15M383 442h1M405 442h1M412 442h1M417 442h1M420 442h1M424 442h1M429 442h2M434 442h2M437 442h12M393 443h1M395 443h1M402 443h2M408 443h2M412 443h2M416 443h1M420 443h1M424 443h1M433 443h1M435 443h14M380 444h1M386 444h1M394 444h1M397 444h1M399 444h1M402 444h1M405 444h4M410 444h1M415 444h2M429 444h1M433 444h16M377 445h2M385 445h1M399 445h2M409 445h1M417 445h3M422 445h1M424 445h2M428 445h1M433 445h1M435 445h24M460 445h2M386 446h1M390 446h1M412 446h1M418 446h1M422 446h1M432 446h1M434 446h29M397 447h2M402 447h2M409 447h1M413 447h1M420 447h1M431 447h1M433 447h29M464 447h2M392 448h1M394 448h1M399 448h1M402 448h3M406 448h2M409 448h1M414 448h1M420 448h2M423 448h1M427 448h1M431 448h2M435 448h26M464 448h1M389 449h1M396 449h3M400 449h1M406 449h1M411 449h3M415 449h1M423 449h2M428 449h1M430 449h2M433 449h26M460 449h2M391 450h1M398 450h2M401 450h1M407 450h2M422 450h2M427 450h1M430 450h2M433 450h30M464 450h1M379 451h1M385 451h1M389 451h1M393 451h1M396 451h2M399 451h1M408 451h2M413 451h1M417 451h1M419 451h1M421 451h1M429 451h2M433 451h1M435 451h27M463 451h1M383 452h1M393 452h1M399 452h1M401 452h1M405 452h1M408 452h4M413 452h1M415 452h1M417 452h1M420 452h2M427 452h2M431 452h29M461 452h2M378 453h1M395 453h1M399 453h1M405 453h1M409 453h1M411 453h1M413 453h1M417 453h1M420 453h1M423 453h2M426 453h1M428 453h1M431 453h29M461 453h2M391 454h2M400 454h1M402 454h1M406 454h5M414 454h2M417 454h1M420 454h1M426 454h2M429 454h32M467 454h1M373 455h2M379 455h2M393 455h1M401 455h1M408 455h2M411 455h1M414 455h1M416 455h1M419 455h3M425 455h7M433 455h27M467 455h1M382 456h1M387 456h1M390 456h1M397 456h2M400 456h1M408 456h1M410 456h2M419 456h2M425 456h2M428 456h13M442 456h11M454 456h6M377 457h1M382 457h2M387 457h1M390 457h2M393 457h1M399 457h4M404 457h1M406 457h1M408 457h1M411 457h2M414 457h1M416 457h3M420 457h2M428 457h4M434 457h18M453 457h2M456 457h7M469 457h1M378 458h2M381 458h1M386 458h1M392 458h2M398 458h1M401 458h1M404 458h1M408 458h2M411 458h3M419 458h1M422 458h1M424 458h2M427 458h2M430 458h1M432 458h7M440 458h16M457 458h3M464 458h1M387 459h1M393 459h1M395 459h1M398 459h1M401 459h2M404 459h1M408 459h1M410 459h6M419 459h2M422 459h2M426 459h2M429 459h1M431 459h2M434 459h23M458 459h2M461 459h1M463 459h1M372 460h1M376 460h1M380 460h1M384 460h1M386 460h1M388 460h1M391 460h3M395 460h3M401 460h1M403 460h3M407 460h1M409 460h2M412 460h1M415 460h1M418 460h1M421 460h4M426 460h4M431 460h18M450 460h4M455 460h2M458 460h1M461 460h1M463 460h2M374 461h1M377 461h1M385 461h1M387 461h1M392 461h1M396 461h4M403 461h1M405 461h5M411 461h9M423 461h2M428 461h1M430 461h1M432 461h20M453 461h9M466 461h1M379 462h1M382 462h2M386 462h1M390 462h5M396 462h17M416 462h5M423 462h1M426 462h6M433 462h5M439 462h19M459 462h1M461 462h1M376 463h1M379 463h1M386 463h2M390 463h4M396 463h1M398 463h6M405 463h1M407 463h1M410 463h1M413 463h2M416 463h2M419 463h4M424 463h2M427 463h2M430 463h3M434 463h1M436 463h12M449 463h4M454 463h5M466 463h1M372 464h1M379 464h1M385 464h2M388 464h2M391 464h1M393 464h2M396 464h4M401 464h6M408 464h1M410 464h1M412 464h4M418 464h3M422 464h4M427 464h29M457 464h3M461 464h1M472 464h1M375 465h2M380 465h1M383 465h1M385 465h1M387 465h8M396 465h1M398 465h3M402 465h5M408 465h1M410 465h4M415 465h2M422 465h1M424 465h33M458 465h1M460 465h1M462 465h2M473 465h1M379 466h3M387 466h3M392 466h9M402 466h6M409 466h23M433 466h28M462 466h1M467 466h1M483 466h1M373 467h1M376 467h2M383 467h1M385 467h3M389 467h2M392 467h16M410 467h8M419 467h4M424 467h6M431 467h19M451 467h7M463 467h1M467 467h2M374 468h1M384 468h1M386 468h6M393 468h18M412 468h1M414 468h6M423 468h1M425 468h5M431 468h29M462 468h1M464 468h1M374 469h1M376 469h2M379 469h1M382 469h1M384 469h1M388 469h1M390 469h3M394 469h8M403 469h11M415 469h1M418 469h5M424 469h4M429 469h28M458 469h4M464 469h1M378 470h3M383 470h4M388 470h25M414 470h10M425 470h2M428 470h10M439 470h2M442 470h14M457 470h1M459 470h1M373 471h2M376 471h1M378 471h3M382 471h1M384 471h1M386 471h9M396 471h14M411 471h19M431 471h22M454 471h1M456 471h1M458 471h1M372 472h1M376 472h1M384 472h8M393 472h1M395 472h1M397 472h13M411 472h5M418 472h4M423 472h1M425 472h22M448 472h8M457 472h1M461 472h4M375 473h1M377 473h1M379 473h3M384 473h1M388 473h32M421 473h35M457 473h3M462 473h1M464 473h1M467 473h1M375 474h2M379 474h4M384 474h37M422 474h5M428 474h2M431 474h3M435 474h1M437 474h24M373 475h2M378 475h2M382 475h2M385 475h1M387 475h30M418 475h5M425 475h2M428 475h1M430 475h15M446 475h16M464 475h1M372 476h4M380 476h1M382 476h2M385 476h35M421 476h37M461 476h2M467 476h1M372 477h1M377 477h1M380 477h1M383 477h14M398 477h21M420 477h16M437 477h12M450 477h7M459 477h1M462 477h1M464 477h1M379 478h2M382 478h3M386 478h35M422 478h5M428 478h8M437 478h18M456 478h6M463 478h1M372 479h1M376 479h1M379 479h1M382 479h2M385 479h3M389 479h14M404 479h17M422 479h1M424 479h21M446 479h14M466 479h1M468 479h1M376 480h1M385 480h42M429 480h22M452 480h3M456 480h4M467 480h1M469 480h1M372 481h2M375 481h1M381 481h1M384 481h1M386 481h36M424 481h1M426 481h2M429 481h4M434 481h3M438 481h17M456 481h3M374 482h1M379 482h1M381 482h1M384 482h40M425 482h4M430 482h17M448 482h8M457 482h2M373 483h1M381 483h1M385 483h4M390 483h33M424 483h15M440 483h3M444 483h1M446 483h1M448 483h4M453 483h3M457 483h4M465 483h1M373 484h1M377 484h1M380 484h1M382 484h4M387 484h40M430 484h4M435 484h5M441 484h2M444 484h1M447 484h5M453 484h2M375 485h1M377 485h1M379 485h1M385 485h5M391 485h35M428 485h1M430 485h3M434 485h8M443 485h1M445 485h3M449 485h6M456 485h1M459 485h1M373 486h1M379 486h3M383 486h36M421 486h4M426 486h2M431 486h2M434 486h4M439 486h2M442 486h1M445 486h2M448 486h2M451 486h1M453 486h1M455 486h1M458 486h1M373 487h3M377 487h3M382 487h2M385 487h2M388 487h34M423 487h1M427 487h1M429 487h2M433 487h2M436 487h2M439 487h2M443 487h3M447 487h1M450 487h2M454 487h1M456 487h1M374 488h2M380 488h1M383 488h33M417 488h2M420 488h1M422 488h4M427 488h3M432 488h1M435 488h1M437 488h1M439 488h5M447 488h1M451 488h2M459 488h1M378 489h1M382 489h3M386 489h2M389 489h39M429 489h1M432 489h2M441 489h1M443 489h2M447 489h1M449 489h1M453 489h1M376 490h1M382 490h38M421 490h1M423 490h4M431 490h1M433 490h2M436 490h1M440 490h1M442 490h2M449 490h1M452 490h1M456 490h1M372 491h1M376 491h1M382 491h2M386 491h2M389 491h15M405 491h17M424 491h2M430 491h1M434 491h3M438 491h4M448 491h1M452 491h1M376 492h1M380 492h1M384 492h3M388 492h2M391 492h3M395 492h10M406 492h16M423 492h2M426 492h1M428 492h2M432 492h1M434 492h1M436 492h1M439 492h1M441 492h1M448 492h1M380 493h2M384 493h1M386 493h32M419 493h2M423 493h1M426 493h1M428 493h1M431 493h2M434 493h3M438 493h3M442 493h2M459 493h1M372 494h1M377 494h1M381 494h2M384 494h14M399 494h16M416 494h4M421 494h2M425 494h2M429 494h1M431 494h4M437 494h2M440 494h1M442 494h1M447 494h1M458 494h1M380 495h1M383 495h1M385 495h1M387 495h13M401 495h9M411 495h3M415 495h1M417 495h4M422 495h2M425 495h1M427 495h2M430 495h2M435 495h1M437 495h2M442 495h1M444 495h2M450 495h1M455 495h1M458 495h1M373 496h1M377 496h1M379 496h1M381 496h1M385 496h1M387 496h1M389 496h12M402 496h11M415 496h4M423 496h4M428 496h1M437 496h1M439 496h4M447 496h1M374 497h1M385 497h2M388 497h7M397 497h14M412 497h3M416 497h2M420 497h1M422 497h1M431 497h4M440 497h2M454 497h1M373 498h1M380 498h1M384 498h1M386 498h1M388 498h1M390 498h1M393 498h2M396 498h3M400 498h3M404 498h3M409 498h7M418 498h2M421 498h2M434 498h1M439 498h1M443 498h1M447 498h1M461 498h1M381 499h1M385 499h1M388 499h1M390 499h4M396 499h8M405 499h1M407 499h4M412 499h3M416 499h1M418 499h1M420 499h1M423 499h1M429 499h1M431 499h2M435 499h1M439 499h1M445 499h1M447 499h1M449 499h1M474 499h1M379 500h2M384 500h1M387 500h1M396 500h1M400 500h1M403 500h3M408 500h1M410 500h2M414 500h1M418 500h1M422 500h1M425 500h1M428 500h1M433 500h1M437 500h1M445 500h1M389 501h1M392 501h1M395 501h5M401 501h1M403 501h5M410 501h1M425 501h1M430 501h1M432 501h3M437 501h1M442 501h1M446 501h1M451 501h1M456 501h1M458 501h1M377 502h1M379 502h1M383 502h1M387 502h1M390 502h1M397 502h1M401 502h6M410 502h1M414 502h1M417 502h2M423 502h2M437 502h1M440 502h4M445 502h1M373 503h1M377 503h1M415 503h1M417 503h1M424 503h1M426 503h3M436 503h1M438 503h1M442 503h1M463 503h1M384 504h1M412 504h1M414 504h1M421 504h1M428 504h2M442 504h1M449 504h1M412 505h1M423 505h1M451 505h1M374 506h1M412 506h1M416 506h1M431 506h1M435 506h1M437 506h1M453 506h1M372 507h1M381 507h2M415 507h1M420 507h1M433 507h1M440 507h2M443 507h2M425 508h1M432 508h1M421 509h1M441 509h1M380 510h2M372 511h1M381 511h1M377 512h1M380 512h1M428 513h1M439 513h1M422 515h1M408 517h1M434 517h1M442 517h1M403 518h1M432 519h1M445 519h1" stroke="#4a4a4a" stroke-width="1" shape-rendering="crispEdges" transform="translate(0 0.5)"/></g>
<rect x="51.25" y="417.5" width="118.35" height="103.20000000000005" fill="none" stroke="#000" stroke-width="1"/>
<line x1="112.1" y1="417.5" x2="112.1" y2="520.7" stroke="#777" stroke-width="0.9"/>
<line x1="51.25" y1="454.4" x2="169.6" y2="454.4" stroke="#000" stroke-width="1"/>
<line x1="48.75" y1="520.7" x2="51.25" y2="520.7" stroke="#000" stroke-width="0.8"/>
<line x1="51.25" y1="520.7" x2="51.25" y2="523.2" stroke="#000" stroke-width="0.8"/>
<line x1="49.95" y1="512.9334261118694" x2="51.25" y2="512.9334261118694" stroke="#000" stroke-width="0.5"/>
<line x1="60.15672499670804" y1="520.7" x2="60.15672499670804" y2="522.0" stroke="#000" stroke-width="0.5"/>
<line x1="49.95" y1="508.39027162823277" x2="51.25" y2="508.39027162823277" stroke="#000" stroke-width="0.5"/>
<line x1="65.366825124018" y1="520.7" x2="65.366825124018" y2="522.0" stroke="#000" stroke-width="0.5"/>
<line x1="49.95" y1="505.1668522237386" x2="51.25" y2="505.1668522237386" stroke="#000" stroke-width="0.5"/>
<line x1="69.06344999341609" y1="520.7" x2="69.06344999341609" y2="522.0" stroke="#000" stroke-width="0.5"/>
<line x1="49.95" y1="502.66657388813076" x2="51.25" y2="502.66657388813076" stroke="#000" stroke-width="0.5"/>
<line x1="71.93077500329196" y1="520.7" x2="71.93077500329196" y2="522.0" stroke="#000" stroke-width="0.5"/>
<line x1="49.95" y1="500.62369774010205" x2="51.25" y2="500.62369774010205" stroke="#000" stroke-width="0.5"/>
<line x1="74.27355012072606" y1="520.7" x2="74.27355012072606" y2="522.0" stroke="#000" stroke-width="0.5"/>
<line x1="49.95" y1="498.8964705676322" x2="51.25" y2="498.8964705676322" stroke="#000" stroke-width="0.5"/>
<line x1="76.25433825892182" y1="520.7" x2="76.25433825892182" y2="522.0" stroke="#000" stroke-width="0.5"/>
<line x1="49.95" y1="497.4002783356079" x2="51.25" y2="497.4002783356079" stroke="#000" stroke-width="0.5"/>
<line x1="77.97017499012412" y1="520.7" x2="77.97017499012412" y2="522.0" stroke="#000" stroke-width="0.5"/>
<line x1="49.95" y1="496.08054325646543" x2="51.25" y2="496.08054325646543" stroke="#000" stroke-width="0.5"/>
<line x1="79.48365024803603" y1="520.7" x2="79.48365024803603" y2="522.0" stroke="#000" stroke-width="0.5"/>
<text x="45.92" y="534.10" font-size="8.5" fill="#000" textLength="9.15" lengthAdjust="spacingAndGlyphs">10</text>
<text x="54.60" y="530.10" font-size="6.5" fill="#000" textLength="3.49" lengthAdjust="spacingAndGlyphs">0</text>
<text x="47.25" y="526.74" font-size="8.5" fill="#000" textLength="7.92" lengthAdjust="spacingAndGlyphs" transform="rotate(-90 47.25 526.74)">10</text>
<text x="43.05" y="517.58" font-size="6.5" fill="#000" textLength="3.96" lengthAdjust="spacingAndGlyphs" transform="rotate(-90 43.05 517.58)">0</text>
<line x1="48.75" y1="494.90000000000003" x2="51.25" y2="494.90000000000003" stroke="#000" stroke-width="0.8"/>
<line x1="80.8375" y1="520.7" x2="80.8375" y2="523.2" stroke="#000" stroke-width="0.8"/>
<line x1="49.95" y1="487.1334261118693" x2="51.25" y2="487.1334261118693" stroke="#000" stroke-width="0.5"/>
<line x1="89.74422499670806" y1="520.7" x2="89.74422499670806" y2="522.0" stroke="#000" stroke-width="0.5"/>
<line x1="49.95" y1="482.59027162823276" x2="51.25" y2="482.59027162823276" stroke="#000" stroke-width="0.5"/>
<line x1="94.95432512401801" y1="520.7" x2="94.95432512401801" y2="522.0" stroke="#000" stroke-width="0.5"/>
<line x1="49.95" y1="479.3668522237386" x2="51.25" y2="479.3668522237386" stroke="#000" stroke-width="0.5"/>
<line x1="98.65094999341609" y1="520.7" x2="98.65094999341609" y2="522.0" stroke="#000" stroke-width="0.5"/>
<line x1="49.95" y1="476.86657388813074" x2="51.25" y2="476.86657388813074" stroke="#000" stroke-width="0.5"/>
<line x1="101.51827500329196" y1="520.7" x2="101.51827500329196" y2="522.0" stroke="#000" stroke-width="0.5"/>
<line x1="49.95" y1="474.82369774010203" x2="51.25" y2="474.82369774010203" stroke="#000" stroke-width="0.5"/>
<line x1="103.86105012072606" y1="520.7" x2="103.86105012072606" y2="522.0" stroke="#000" stroke-width="0.5"/>
<line x1="49.95" y1="473.0964705676322" x2="51.25" y2="473.0964705676322" stroke="#000" stroke-width="0.5"/>
<line x1="105.84183825892183" y1="520.7" x2="105.84183825892183" y2="522.0" stroke="#000" stroke-width="0.5"/>
<line x1="49.95" y1="471.60027833560787" x2="51.25" y2="471.60027833560787" stroke="#000" stroke-width="0.5"/>
<line x1="107.55767499012413" y1="520.7" x2="107.55767499012413" y2="522.0" stroke="#000" stroke-width="0.5"/>
<line x1="49.95" y1="470.2805432564654" x2="51.25" y2="470.2805432564654" stroke="#000" stroke-width="0.5"/>
<line x1="109.07115024803603" y1="520.7" x2="109.07115024803603" y2="522.0" stroke="#000" stroke-width="0.5"/>
<text x="75.51" y="534.10" font-size="8.5" fill="#000" textLength="9.15" lengthAdjust="spacingAndGlyphs">10</text>
<text x="83.91" y="530.10" font-size="6.5" fill="#000" textLength="3.87" lengthAdjust="spacingAndGlyphs">1</text>
<text x="47.25" y="500.94" font-size="8.5" fill="#000" textLength="7.92" lengthAdjust="spacingAndGlyphs" transform="rotate(-90 47.25 500.94)">10</text>
<text x="43.05" y="492.10" font-size="6.5" fill="#000" textLength="4.39" lengthAdjust="spacingAndGlyphs" transform="rotate(-90 43.05 492.10)">1</text>
<line x1="48.75" y1="469.1" x2="51.25" y2="469.1" stroke="#000" stroke-width="0.8"/>
<line x1="110.425" y1="520.7" x2="110.425" y2="523.2" stroke="#000" stroke-width="0.8"/>
<line x1="49.95" y1="461.3334261118693" x2="51.25" y2="461.3334261118693" stroke="#000" stroke-width="0.5"/>
<line x1="119.33172499670803" y1="520.7" x2="119.33172499670803" y2="522.0" stroke="#000" stroke-width="0.5"/>
<line x1="49.95" y1="456.79027162823274" x2="51.25" y2="456.79027162823274" stroke="#000" stroke-width="0.5"/>
<line x1="124.541825124018" y1="520.7" x2="124.541825124018" y2="522.0" stroke="#000" stroke-width="0.5"/>
<line x1="49.95" y1="453.5668522237386" x2="51.25" y2="453.5668522237386" stroke="#000" stroke-width="0.5"/>
<line x1="128.23844999341608" y1="520.7" x2="128.23844999341608" y2="522.0" stroke="#000" stroke-width="0.5"/>
<line x1="49.95" y1="451.06657388813073" x2="51.25" y2="451.06657388813073" stroke="#000" stroke-width="0.5"/>
<line x1="131.10577500329197" y1="520.7" x2="131.10577500329197" y2="522.0" stroke="#000" stroke-width="0.5"/>
<line x1="49.95" y1="449.023697740102" x2="51.25" y2="449.023697740102" stroke="#000" stroke-width="0.5"/>
<line x1="133.44855012072605" y1="520.7" x2="133.44855012072605" y2="522.0" stroke="#000" stroke-width="0.5"/>
<line x1="49.95" y1="447.2964705676322" x2="51.25" y2="447.2964705676322" stroke="#000" stroke-width="0.5"/>
<line x1="135.42933825892183" y1="520.7" x2="135.42933825892183" y2="522.0" stroke="#000" stroke-width="0.5"/>
<line x1="49.95" y1="445.80027833560786" x2="51.25" y2="445.80027833560786" stroke="#000" stroke-width="0.5"/>
<line x1="137.14517499012413" y1="520.7" x2="137.14517499012413" y2="522.0" stroke="#000" stroke-width="0.5"/>
<line x1="49.95" y1="444.4805432564654" x2="51.25" y2="444.4805432564654" stroke="#000" stroke-width="0.5"/>
<line x1="138.65865024803603" y1="520.7" x2="138.65865024803603" y2="522.0" stroke="#000" stroke-width="0.5"/>
<text x="105.10" y="534.10" font-size="8.5" fill="#000" textLength="9.15" lengthAdjust="spacingAndGlyphs">10</text>
<text x="113.69" y="530.10" font-size="6.5" fill="#000" textLength="3.66" lengthAdjust="spacingAndGlyphs">2</text>
<text x="47.25" y="475.14" font-size="8.5" fill="#000" textLength="7.92" lengthAdjust="spacingAndGlyphs" transform="rotate(-90 47.25 475.14)">10</text>
<text x="43.05" y="466.08" font-size="6.5" fill="#000" textLength="4.15" lengthAdjust="spacingAndGlyphs" transform="rotate(-90 43.05 466.08)">2</text>
<line x1="48.75" y1="443.3" x2="51.25" y2="443.3" stroke="#000" stroke-width="0.8"/>
<line x1="140.0125" y1="520.7" x2="140.0125" y2="523.2" stroke="#000" stroke-width="0.8"/>
<line x1="49.95" y1="435.5334261118693" x2="51.25" y2="435.5334261118693" stroke="#000" stroke-width="0.5"/>
<line x1="148.91922499670804" y1="520.7" x2="148.91922499670804" y2="522.0" stroke="#000" stroke-width="0.5"/>
<line x1="49.95" y1="430.99027162823273" x2="51.25" y2="430.99027162823273" stroke="#000" stroke-width="0.5"/>
<line x1="154.129325124018" y1="520.7" x2="154.129325124018" y2="522.0" stroke="#000" stroke-width="0.5"/>
<line x1="49.95" y1="427.76685222373857" x2="51.25" y2="427.76685222373857" stroke="#000" stroke-width="0.5"/>
<line x1="157.8259499934161" y1="520.7" x2="157.8259499934161" y2="522.0" stroke="#000" stroke-width="0.5"/>
<line x1="49.95" y1="425.2665738881307" x2="51.25" y2="425.2665738881307" stroke="#000" stroke-width="0.5"/>
<line x1="160.69327500329194" y1="520.7" x2="160.69327500329194" y2="522.0" stroke="#000" stroke-width="0.5"/>
<line x1="49.95" y1="423.223697740102" x2="51.25" y2="423.223697740102" stroke="#000" stroke-width="0.5"/>
<line x1="163.03605012072603" y1="520.7" x2="163.03605012072603" y2="522.0" stroke="#000" stroke-width="0.5"/>
<line x1="49.95" y1="421.4964705676322" x2="51.25" y2="421.4964705676322" stroke="#000" stroke-width="0.5"/>
<line x1="165.0168382589218" y1="520.7" x2="165.0168382589218" y2="522.0" stroke="#000" stroke-width="0.5"/>
<line x1="49.95" y1="420.00027833560785" x2="51.25" y2="420.00027833560785" stroke="#000" stroke-width="0.5"/>
<line x1="166.7326749901241" y1="520.7" x2="166.7326749901241" y2="522.0" stroke="#000" stroke-width="0.5"/>
<line x1="49.95" y1="418.6805432564654" x2="51.25" y2="418.6805432564654" stroke="#000" stroke-width="0.5"/>
<line x1="168.246150248036" y1="520.7" x2="168.246150248036" y2="522.0" stroke="#000" stroke-width="0.5"/>
<text x="134.69" y="534.10" font-size="8.5" fill="#000" textLength="9.15" lengthAdjust="spacingAndGlyphs">10</text>
<text x="143.37" y="530.10" font-size="6.5" fill="#000" textLength="3.52" lengthAdjust="spacingAndGlyphs">3</text>
<text x="47.25" y="449.34" font-size="8.5" fill="#000" textLength="7.92" lengthAdjust="spacingAndGlyphs" transform="rotate(-90 47.25 449.34)">10</text>
<text x="43.05" y="440.17" font-size="6.5" fill="#000" textLength="3.99" lengthAdjust="spacingAndGlyphs" transform="rotate(-90 43.05 440.17)">3</text>
<line x1="48.75" y1="417.5" x2="51.25" y2="417.5" stroke="#000" stroke-width="0.8"/>
<line x1="169.6" y1="520.7" x2="169.6" y2="523.2" stroke="#000" stroke-width="0.8"/>
<text x="164.27" y="534.10" font-size="8.5" fill="#000" textLength="9.15" lengthAdjust="spacingAndGlyphs">10</text>
<text x="173.06" y="530.10" font-size="6.5" fill="#000" textLength="3.31" lengthAdjust="spacingAndGlyphs">4</text>
<text x="47.25" y="423.54" font-size="8.5" fill="#000" textLength="7.92" lengthAdjust="spacingAndGlyphs" transform="rotate(-90 47.25 423.54)">10</text>
<text x="43.05" y="414.25" font-size="6.5" fill="#000" textLength="3.75" lengthAdjust="spacingAndGlyphs" transform="rotate(-90 43.05 414.25)">4</text>
<text x="100.22" y="541.60" font-size="7" fill="#222" textLength="20.40" lengthAdjust="spacingAndGlyphs">FL2-H</text>
<text x="35.75" y="481.63" font-size="7" fill="#222" textLength="21.46" lengthAdjust="spacingAndGlyphs" transform="rotate(-90 35.75 481.63)">FL3-H</text>
<rect x="211.25" y="419.5" width="116.85000000000002" height="101.70000000000005" fill="none" stroke="#000" stroke-width="1"/>
<line x1="271.4" y1="419.5" x2="271.4" y2="521.2" stroke="#333" stroke-width="0.9"/>
<line x1="211.25" y1="456.3" x2="328.1" y2="456.3" stroke="#000" stroke-width="1"/>
<line x1="208.75" y1="521.2" x2="211.25" y2="521.2" stroke="#000" stroke-width="0.8"/>
<line x1="211.25" y1="521.2" x2="211.25" y2="523.7" stroke="#000" stroke-width="0.8"/>
<line x1="209.95" y1="513.5463123602433" x2="211.25" y2="513.5463123602433" stroke="#000" stroke-width="0.5"/>
<line x1="220.04383874833405" y1="521.2" x2="220.04383874833405" y2="522.5" stroke="#000" stroke-width="0.5"/>
<line x1="209.95" y1="509.06919209875264" x2="211.25" y2="509.06919209875264" stroke="#000" stroke-width="0.5"/>
<line x1="225.18790465349815" y1="521.2" x2="225.18790465349815" y2="522.5" stroke="#000" stroke-width="0.5"/>
<line x1="209.95" y1="505.8926247204866" x2="211.25" y2="505.8926247204866" stroke="#000" stroke-width="0.5"/>
<line x1="228.8376774966681" y1="521.2" x2="228.8376774966681" y2="522.5" stroke="#000" stroke-width="0.5"/>
<line x1="209.95" y1="503.42868763975673" x2="211.25" y2="503.42868763975673" stroke="#000" stroke-width="0.5"/>
<line x1="231.66866125166595" y1="521.2" x2="231.66866125166595" y2="522.5" stroke="#000" stroke-width="0.5"/>
<line x1="209.95" y1="501.4155044589959" x2="211.25" y2="501.4155044589959" stroke="#000" stroke-width="0.5"/>
<line x1="233.9817434018322" y1="521.2" x2="233.9817434018322" y2="522.5" stroke="#000" stroke-width="0.5"/>
<line x1="209.95" y1="499.71338233263754" x2="211.25" y2="499.71338233263754" stroke="#000" stroke-width="0.5"/>
<line x1="235.9374264939165" y1="521.2" x2="235.9374264939165" y2="522.5" stroke="#000" stroke-width="0.5"/>
<line x1="209.95" y1="498.2389370807299" x2="211.25" y2="498.2389370807299" stroke="#000" stroke-width="0.5"/>
<line x1="237.63151624500216" y1="521.2" x2="237.63151624500216" y2="522.5" stroke="#000" stroke-width="0.5"/>
<line x1="209.95" y1="496.93838419750523" x2="211.25" y2="496.93838419750523" stroke="#000" stroke-width="0.5"/>
<line x1="239.12580930699627" y1="521.2" x2="239.12580930699627" y2="522.5" stroke="#000" stroke-width="0.5"/>
<text x="205.92" y="534.60" font-size="8.5" fill="#000" textLength="9.15" lengthAdjust="spacingAndGlyphs">10</text>
<text x="214.60" y="530.60" font-size="6.5" fill="#000" textLength="3.49" lengthAdjust="spacingAndGlyphs">0</text>
<text x="207.25" y="527.24" font-size="8.5" fill="#000" textLength="7.92" lengthAdjust="spacingAndGlyphs" transform="rotate(-90 207.25 527.24)">10</text>
<text x="203.05" y="518.08" font-size="6.5" fill="#000" textLength="3.96" lengthAdjust="spacingAndGlyphs" transform="rotate(-90 203.05 518.08)">0</text>
<line x1="208.75" y1="495.77500000000003" x2="211.25" y2="495.77500000000003" stroke="#000" stroke-width="0.8"/>
<line x1="240.4625" y1="521.2" x2="240.4625" y2="523.7" stroke="#000" stroke-width="0.8"/>
<line x1="209.95" y1="488.12131236024334" x2="211.25" y2="488.12131236024334" stroke="#000" stroke-width="0.5"/>
<line x1="249.25633874833406" y1="521.2" x2="249.25633874833406" y2="522.5" stroke="#000" stroke-width="0.5"/>
<line x1="209.95" y1="483.6441920987526" x2="211.25" y2="483.6441920987526" stroke="#000" stroke-width="0.5"/>
<line x1="254.40040465349816" y1="521.2" x2="254.40040465349816" y2="522.5" stroke="#000" stroke-width="0.5"/>
<line x1="209.95" y1="480.4676247204866" x2="211.25" y2="480.4676247204866" stroke="#000" stroke-width="0.5"/>
<line x1="258.0501774966681" y1="521.2" x2="258.0501774966681" y2="522.5" stroke="#000" stroke-width="0.5"/>
<line x1="209.95" y1="478.0036876397568" x2="211.25" y2="478.0036876397568" stroke="#000" stroke-width="0.5"/>
<line x1="260.88116125166596" y1="521.2" x2="260.88116125166596" y2="522.5" stroke="#000" stroke-width="0.5"/>
<line x1="209.95" y1="475.9905044589959" x2="211.25" y2="475.9905044589959" stroke="#000" stroke-width="0.5"/>
<line x1="263.1942434018322" y1="521.2" x2="263.1942434018322" y2="522.5" stroke="#000" stroke-width="0.5"/>
<line x1="209.95" y1="474.2883823326375" x2="211.25" y2="474.2883823326375" stroke="#000" stroke-width="0.5"/>
<line x1="265.1499264939165" y1="521.2" x2="265.1499264939165" y2="522.5" stroke="#000" stroke-width="0.5"/>
<line x1="209.95" y1="472.81393708072983" x2="211.25" y2="472.81393708072983" stroke="#000" stroke-width="0.5"/>
<line x1="266.84401624500214" y1="521.2" x2="266.84401624500214" y2="522.5" stroke="#000" stroke-width="0.5"/>
<line x1="209.95" y1="471.51338419750516" x2="211.25" y2="471.51338419750516" stroke="#000" stroke-width="0.5"/>
<line x1="268.3383093069963" y1="521.2" x2="268.3383093069963" y2="522.5" stroke="#000" stroke-width="0.5"/>
<text x="235.14" y="534.60" font-size="8.5" fill="#000" textLength="9.15" lengthAdjust="spacingAndGlyphs">10</text>
<text x="243.53" y="530.60" font-size="6.5" fill="#000" textLength="3.87" lengthAdjust="spacingAndGlyphs">1</text>
<text x="207.25" y="501.82" font-size="8.5" fill="#000" textLength="7.92" lengthAdjust="spacingAndGlyphs" transform="rotate(-90 207.25 501.82)">10</text>
<text x="203.05" y="492.98" font-size="6.5" fill="#000" textLength="4.39" lengthAdjust="spacingAndGlyphs" transform="rotate(-90 203.05 492.98)">1</text>
<line x1="208.75" y1="470.35" x2="211.25" y2="470.35" stroke="#000" stroke-width="0.8"/>
<line x1="269.675" y1="521.2" x2="269.675" y2="523.7" stroke="#000" stroke-width="0.8"/>
<line x1="209.95" y1="462.69631236024327" x2="211.25" y2="462.69631236024327" stroke="#000" stroke-width="0.5"/>
<line x1="278.46883874833406" y1="521.2" x2="278.46883874833406" y2="522.5" stroke="#000" stroke-width="0.5"/>
<line x1="209.95" y1="458.2191920987526" x2="211.25" y2="458.2191920987526" stroke="#000" stroke-width="0.5"/>
<line x1="283.61290465349816" y1="521.2" x2="283.61290465349816" y2="522.5" stroke="#000" stroke-width="0.5"/>
<line x1="209.95" y1="455.0426247204866" x2="211.25" y2="455.0426247204866" stroke="#000" stroke-width="0.5"/>
<line x1="287.2626774966681" y1="521.2" x2="287.2626774966681" y2="522.5" stroke="#000" stroke-width="0.5"/>
<line x1="209.95" y1="452.5786876397567" x2="211.25" y2="452.5786876397567" stroke="#000" stroke-width="0.5"/>
<line x1="290.093661251666" y1="521.2" x2="290.093661251666" y2="522.5" stroke="#000" stroke-width="0.5"/>
<line x1="209.95" y1="450.56550445899586" x2="211.25" y2="450.56550445899586" stroke="#000" stroke-width="0.5"/>
<line x1="292.4067434018322" y1="521.2" x2="292.4067434018322" y2="522.5" stroke="#000" stroke-width="0.5"/>
<line x1="209.95" y1="448.8633823326375" x2="211.25" y2="448.8633823326375" stroke="#000" stroke-width="0.5"/>
<line x1="294.3624264939165" y1="521.2" x2="294.3624264939165" y2="522.5" stroke="#000" stroke-width="0.5"/>
<line x1="209.95" y1="447.3889370807299" x2="211.25" y2="447.3889370807299" stroke="#000" stroke-width="0.5"/>
<line x1="296.0565162450022" y1="521.2" x2="296.0565162450022" y2="522.5" stroke="#000" stroke-width="0.5"/>
<line x1="209.95" y1="446.0883841975052" x2="211.25" y2="446.0883841975052" stroke="#000" stroke-width="0.5"/>
<line x1="297.5508093069963" y1="521.2" x2="297.5508093069963" y2="522.5" stroke="#000" stroke-width="0.5"/>
<text x="264.35" y="534.60" font-size="8.5" fill="#000" textLength="9.15" lengthAdjust="spacingAndGlyphs">10</text>
<text x="272.94" y="530.60" font-size="6.5" fill="#000" textLength="3.66" lengthAdjust="spacingAndGlyphs">2</text>
<text x="207.25" y="476.39" font-size="8.5" fill="#000" textLength="7.92" lengthAdjust="spacingAndGlyphs" transform="rotate(-90 207.25 476.39)">10</text>
<text x="203.05" y="467.33" font-size="6.5" fill="#000" textLength="4.15" lengthAdjust="spacingAndGlyphs" transform="rotate(-90 203.05 467.33)">2</text>
<line x1="208.75" y1="444.925" x2="211.25" y2="444.925" stroke="#000" stroke-width="0.8"/>
<line x1="298.88750000000005" y1="521.2" x2="298.88750000000005" y2="523.7" stroke="#000" stroke-width="0.8"/>
<line x1="209.95" y1="437.2713123602433" x2="211.25" y2="437.2713123602433" stroke="#000" stroke-width="0.5"/>
<line x1="307.6813387483341" y1="521.2" x2="307.6813387483341" y2="522.5" stroke="#000" stroke-width="0.5"/>
<line x1="209.95" y1="432.7941920987526" x2="211.25" y2="432.7941920987526" stroke="#000" stroke-width="0.5"/>
<line x1="312.8254046534982" y1="521.2" x2="312.8254046534982" y2="522.5" stroke="#000" stroke-width="0.5"/>
<line x1="209.95" y1="429.61762472048656" x2="211.25" y2="429.61762472048656" stroke="#000" stroke-width="0.5"/>
<line x1="316.47517749666815" y1="521.2" x2="316.47517749666815" y2="522.5" stroke="#000" stroke-width="0.5"/>
<line x1="209.95" y1="427.15368763975675" x2="211.25" y2="427.15368763975675" stroke="#000" stroke-width="0.5"/>
<line x1="319.306161251666" y1="521.2" x2="319.306161251666" y2="522.5" stroke="#000" stroke-width="0.5"/>
<line x1="209.95" y1="425.14050445899585" x2="211.25" y2="425.14050445899585" stroke="#000" stroke-width="0.5"/>
<line x1="321.61924340183225" y1="521.2" x2="321.61924340183225" y2="522.5" stroke="#000" stroke-width="0.5"/>
<line x1="209.95" y1="423.4383823326375" x2="211.25" y2="423.4383823326375" stroke="#000" stroke-width="0.5"/>
<line x1="323.5749264939165" y1="521.2" x2="323.5749264939165" y2="522.5" stroke="#000" stroke-width="0.5"/>
<line x1="209.95" y1="421.9639370807298" x2="211.25" y2="421.9639370807298" stroke="#000" stroke-width="0.5"/>
<line x1="325.2690162450022" y1="521.2" x2="325.2690162450022" y2="522.5" stroke="#000" stroke-width="0.5"/>
<line x1="209.95" y1="420.66338419750514" x2="211.25" y2="420.66338419750514" stroke="#000" stroke-width="0.5"/>
<line x1="326.76330930699635" y1="521.2" x2="326.76330930699635" y2="522.5" stroke="#000" stroke-width="0.5"/>
<text x="293.56" y="534.60" font-size="8.5" fill="#000" textLength="9.15" lengthAdjust="spacingAndGlyphs">10</text>
<text x="302.25" y="530.60" font-size="6.5" fill="#000" textLength="3.52" lengthAdjust="spacingAndGlyphs">3</text>
<text x="207.25" y="450.97" font-size="8.5" fill="#000" textLength="7.92" lengthAdjust="spacingAndGlyphs" transform="rotate(-90 207.25 450.97)">10</text>
<text x="203.05" y="441.80" font-size="6.5" fill="#000" textLength="3.99" lengthAdjust="spacingAndGlyphs" transform="rotate(-90 203.05 441.80)">3</text>
<line x1="208.75" y1="419.5" x2="211.25" y2="419.5" stroke="#000" stroke-width="0.8"/>
<line x1="328.1" y1="521.2" x2="328.1" y2="523.7" stroke="#000" stroke-width="0.8"/>
<text x="322.77" y="534.60" font-size="8.5" fill="#000" textLength="9.15" lengthAdjust="spacingAndGlyphs">10</text>
<text x="331.56" y="530.60" font-size="6.5" fill="#000" textLength="3.31" lengthAdjust="spacingAndGlyphs">4</text>
<text x="207.25" y="425.54" font-size="8.5" fill="#000" textLength="7.92" lengthAdjust="spacingAndGlyphs" transform="rotate(-90 207.25 425.54)">10</text>
<text x="203.05" y="416.25" font-size="6.5" fill="#000" textLength="3.75" lengthAdjust="spacingAndGlyphs" transform="rotate(-90 203.05 416.25)">4</text>
<text x="259.47" y="542.10" font-size="7" fill="#222" textLength="20.40" lengthAdjust="spacingAndGlyphs">FL2-H</text>
<text x="195.75" y="482.88" font-size="7" fill="#222" textLength="21.46" lengthAdjust="spacingAndGlyphs" transform="rotate(-90 195.75 482.88)">FL3-H</text>
<rect x="371" y="419.5" width="116.19999999999999" height="101.79999999999995" fill="none" stroke="#000" stroke-width="1"/>
<line x1="431" y1="419.5" x2="431" y2="521.3" stroke="#333" stroke-width="0.9"/>
<line x1="371" y1="456.3" x2="487.2" y2="456.3" stroke="#000" stroke-width="1"/>
<line x1="368.5" y1="521.3" x2="371" y2="521.3" stroke="#000" stroke-width="0.8"/>
<line x1="371.0" y1="521.3" x2="371.0" y2="523.8" stroke="#000" stroke-width="0.8"/>
<line x1="369.7" y1="513.6387866103516" x2="371" y2="513.6387866103516" stroke="#000" stroke-width="0.5"/>
<line x1="379.74492137403865" y1="521.3" x2="379.74492137403865" y2="522.5999999999999" stroke="#000" stroke-width="0.5"/>
<line x1="369.7" y1="509.1572640673846" x2="371" y2="509.1572640673846" stroke="#000" stroke-width="0.5"/>
<line x1="384.8603724496062" y1="521.3" x2="384.8603724496062" y2="522.5999999999999" stroke="#000" stroke-width="0.5"/>
<line x1="369.7" y1="505.97757322070333" x2="371" y2="505.97757322070333" stroke="#000" stroke-width="0.5"/>
<line x1="388.4898427480773" y1="521.3" x2="388.4898427480773" y2="522.5999999999999" stroke="#000" stroke-width="0.5"/>
<line x1="369.7" y1="503.5112133896483" x2="371" y2="503.5112133896483" stroke="#000" stroke-width="0.5"/>
<line x1="391.30507862596136" y1="521.3" x2="391.30507862596136" y2="522.5999999999999" stroke="#000" stroke-width="0.5"/>
<line x1="369.7" y1="501.4960506777362" x2="371" y2="501.4960506777362" stroke="#000" stroke-width="0.5"/>
<line x1="393.60529382364484" y1="521.3" x2="393.60529382364484" y2="522.5999999999999" stroke="#000" stroke-width="0.5"/>
<line x1="369.7" y1="499.7922548816371" x2="371" y2="499.7922548816371" stroke="#000" stroke-width="0.5"/>
<line x1="395.5500980624142" y1="521.3" x2="395.5500980624142" y2="522.5999999999999" stroke="#000" stroke-width="0.5"/>
<line x1="369.7" y1="498.316359831055" x2="371" y2="498.316359831055" stroke="#000" stroke-width="0.5"/>
<line x1="397.23476412211596" y1="521.3" x2="397.23476412211596" y2="522.5999999999999" stroke="#000" stroke-width="0.5"/>
<line x1="369.7" y1="497.01452813476914" x2="371" y2="497.01452813476914" stroke="#000" stroke-width="0.5"/>
<line x1="398.7207448992124" y1="521.3" x2="398.7207448992124" y2="522.5999999999999" stroke="#000" stroke-width="0.5"/>
<text x="365.67" y="534.70" font-size="8.5" fill="#000" textLength="9.15" lengthAdjust="spacingAndGlyphs">10</text>
<text x="374.35" y="530.70" font-size="6.5" fill="#000" textLength="3.49" lengthAdjust="spacingAndGlyphs">0</text>
<text x="367.00" y="527.34" font-size="8.5" fill="#000" textLength="7.92" lengthAdjust="spacingAndGlyphs" transform="rotate(-90 367.00 527.34)">10</text>
<text x="362.80" y="518.18" font-size="6.5" fill="#000" textLength="3.96" lengthAdjust="spacingAndGlyphs" transform="rotate(-90 362.80 518.18)">0</text>
<line x1="368.5" y1="495.84999999999997" x2="371" y2="495.84999999999997" stroke="#000" stroke-width="0.8"/>
<line x1="400.05" y1="521.3" x2="400.05" y2="523.8" stroke="#000" stroke-width="0.8"/>
<line x1="369.7" y1="488.18878661035166" x2="371" y2="488.18878661035166" stroke="#000" stroke-width="0.5"/>
<line x1="408.79492137403867" y1="521.3" x2="408.79492137403867" y2="522.5999999999999" stroke="#000" stroke-width="0.5"/>
<line x1="369.7" y1="483.7072640673846" x2="371" y2="483.7072640673846" stroke="#000" stroke-width="0.5"/>
<line x1="413.9103724496062" y1="521.3" x2="413.9103724496062" y2="522.5999999999999" stroke="#000" stroke-width="0.5"/>
<line x1="369.7" y1="480.52757322070335" x2="371" y2="480.52757322070335" stroke="#000" stroke-width="0.5"/>
<line x1="417.5398427480773" y1="521.3" x2="417.5398427480773" y2="522.5999999999999" stroke="#000" stroke-width="0.5"/>
<line x1="369.7" y1="478.0612133896483" x2="371" y2="478.0612133896483" stroke="#000" stroke-width="0.5"/>
<line x1="420.35507862596137" y1="521.3" x2="420.35507862596137" y2="522.5999999999999" stroke="#000" stroke-width="0.5"/>
<line x1="369.7" y1="476.0460506777362" x2="371" y2="476.0460506777362" stroke="#000" stroke-width="0.5"/>
<line x1="422.65529382364485" y1="521.3" x2="422.65529382364485" y2="522.5999999999999" stroke="#000" stroke-width="0.5"/>
<line x1="369.7" y1="474.34225488163713" x2="371" y2="474.34225488163713" stroke="#000" stroke-width="0.5"/>
<line x1="424.6000980624142" y1="521.3" x2="424.6000980624142" y2="522.5999999999999" stroke="#000" stroke-width="0.5"/>
<line x1="369.7" y1="472.86635983105504" x2="371" y2="472.86635983105504" stroke="#000" stroke-width="0.5"/>
<line x1="426.284764122116" y1="521.3" x2="426.284764122116" y2="522.5999999999999" stroke="#000" stroke-width="0.5"/>
<line x1="369.7" y1="471.56452813476915" x2="371" y2="471.56452813476915" stroke="#000" stroke-width="0.5"/>
<line x1="427.7707448992124" y1="521.3" x2="427.7707448992124" y2="522.5999999999999" stroke="#000" stroke-width="0.5"/>
<text x="394.72" y="534.70" font-size="8.5" fill="#000" textLength="9.15" lengthAdjust="spacingAndGlyphs">10</text>
<text x="403.12" y="530.70" font-size="6.5" fill="#000" textLength="3.87" lengthAdjust="spacingAndGlyphs">1</text>
<text x="367.00" y="501.89" font-size="8.5" fill="#000" textLength="7.92" lengthAdjust="spacingAndGlyphs" transform="rotate(-90 367.00 501.89)">10</text>
<text x="362.80" y="493.05" font-size="6.5" fill="#000" textLength="4.39" lengthAdjust="spacingAndGlyphs" transform="rotate(-90 362.80 493.05)">1</text>
<line x1="368.5" y1="470.4" x2="371" y2="470.4" stroke="#000" stroke-width="0.8"/>
<line x1="429.1" y1="521.3" x2="429.1" y2="523.8" stroke="#000" stroke-width="0.8"/>
<line x1="369.7" y1="462.73878661035167" x2="371" y2="462.73878661035167" stroke="#000" stroke-width="0.5"/>
<line x1="437.8449213740387" y1="521.3" x2="437.8449213740387" y2="522.5999999999999" stroke="#000" stroke-width="0.5"/>
<line x1="369.7" y1="458.2572640673846" x2="371" y2="458.2572640673846" stroke="#000" stroke-width="0.5"/>
<line x1="442.9603724496062" y1="521.3" x2="442.9603724496062" y2="522.5999999999999" stroke="#000" stroke-width="0.5"/>
<line x1="369.7" y1="455.07757322070336" x2="371" y2="455.07757322070336" stroke="#000" stroke-width="0.5"/>
<line x1="446.58984274807733" y1="521.3" x2="446.58984274807733" y2="522.5999999999999" stroke="#000" stroke-width="0.5"/>
<line x1="369.7" y1="452.6112133896483" x2="371" y2="452.6112133896483" stroke="#000" stroke-width="0.5"/>
<line x1="449.4050786259614" y1="521.3" x2="449.4050786259614" y2="522.5999999999999" stroke="#000" stroke-width="0.5"/>
<line x1="369.7" y1="450.59605067773623" x2="371" y2="450.59605067773623" stroke="#000" stroke-width="0.5"/>
<line x1="451.70529382364487" y1="521.3" x2="451.70529382364487" y2="522.5999999999999" stroke="#000" stroke-width="0.5"/>
<line x1="369.7" y1="448.89225488163714" x2="371" y2="448.89225488163714" stroke="#000" stroke-width="0.5"/>
<line x1="453.6500980624142" y1="521.3" x2="453.6500980624142" y2="522.5999999999999" stroke="#000" stroke-width="0.5"/>
<line x1="369.7" y1="447.41635983105505" x2="371" y2="447.41635983105505" stroke="#000" stroke-width="0.5"/>
<line x1="455.334764122116" y1="521.3" x2="455.334764122116" y2="522.5999999999999" stroke="#000" stroke-width="0.5"/>
<line x1="369.7" y1="446.11452813476916" x2="371" y2="446.11452813476916" stroke="#000" stroke-width="0.5"/>
<line x1="456.8207448992124" y1="521.3" x2="456.8207448992124" y2="522.5999999999999" stroke="#000" stroke-width="0.5"/>
<text x="423.77" y="534.70" font-size="8.5" fill="#000" textLength="9.15" lengthAdjust="spacingAndGlyphs">10</text>
<text x="432.37" y="530.70" font-size="6.5" fill="#000" textLength="3.66" lengthAdjust="spacingAndGlyphs">2</text>
<text x="367.00" y="476.44" font-size="8.5" fill="#000" textLength="7.92" lengthAdjust="spacingAndGlyphs" transform="rotate(-90 367.00 476.44)">10</text>
<text x="362.80" y="467.38" font-size="6.5" fill="#000" textLength="4.15" lengthAdjust="spacingAndGlyphs" transform="rotate(-90 362.80 467.38)">2</text>
<line x1="368.5" y1="444.95" x2="371" y2="444.95" stroke="#000" stroke-width="0.8"/>
<line x1="458.15" y1="521.3" x2="458.15" y2="523.8" stroke="#000" stroke-width="0.8"/>
<line x1="369.7" y1="437.2887866103517" x2="371" y2="437.2887866103517" stroke="#000" stroke-width="0.5"/>
<line x1="466.89492137403863" y1="521.3" x2="466.89492137403863" y2="522.5999999999999" stroke="#000" stroke-width="0.5"/>
<line x1="369.7" y1="432.8072640673846" x2="371" y2="432.8072640673846" stroke="#000" stroke-width="0.5"/>
<line x1="472.01037244960617" y1="521.3" x2="472.01037244960617" y2="522.5999999999999" stroke="#000" stroke-width="0.5"/>
<line x1="369.7" y1="429.62757322070337" x2="371" y2="429.62757322070337" stroke="#000" stroke-width="0.5"/>
<line x1="475.6398427480773" y1="521.3" x2="475.6398427480773" y2="522.5999999999999" stroke="#000" stroke-width="0.5"/>
<line x1="369.7" y1="427.1612133896483" x2="371" y2="427.1612133896483" stroke="#000" stroke-width="0.5"/>
<line x1="478.45507862596133" y1="521.3" x2="478.45507862596133" y2="522.5999999999999" stroke="#000" stroke-width="0.5"/>
<line x1="369.7" y1="425.14605067773624" x2="371" y2="425.14605067773624" stroke="#000" stroke-width="0.5"/>
<line x1="480.7552938236448" y1="521.3" x2="480.7552938236448" y2="522.5999999999999" stroke="#000" stroke-width="0.5"/>
<line x1="369.7" y1="423.44225488163715" x2="371" y2="423.44225488163715" stroke="#000" stroke-width="0.5"/>
<line x1="482.70009806241416" y1="521.3" x2="482.70009806241416" y2="522.5999999999999" stroke="#000" stroke-width="0.5"/>
<line x1="369.7" y1="421.96635983105506" x2="371" y2="421.96635983105506" stroke="#000" stroke-width="0.5"/>
<line x1="484.38476412211594" y1="521.3" x2="484.38476412211594" y2="522.5999999999999" stroke="#000" stroke-width="0.5"/>
<line x1="369.7" y1="420.66452813476917" x2="371" y2="420.66452813476917" stroke="#000" stroke-width="0.5"/>
<line x1="485.87074489921235" y1="521.3" x2="485.87074489921235" y2="522.5999999999999" stroke="#000" stroke-width="0.5"/>
<text x="452.82" y="534.70" font-size="8.5" fill="#000" textLength="9.15" lengthAdjust="spacingAndGlyphs">10</text>
<text x="461.51" y="530.70" font-size="6.5" fill="#000" textLength="3.52" lengthAdjust="spacingAndGlyphs">3</text>
<text x="367.00" y="450.99" font-size="8.5" fill="#000" textLength="7.92" lengthAdjust="spacingAndGlyphs" transform="rotate(-90 367.00 450.99)">10</text>
<text x="362.80" y="441.82" font-size="6.5" fill="#000" textLength="3.99" lengthAdjust="spacingAndGlyphs" transform="rotate(-90 362.80 441.82)">3</text>
<line x1="368.5" y1="419.5" x2="371" y2="419.5" stroke="#000" stroke-width="0.8"/>
<line x1="487.2" y1="521.3" x2="487.2" y2="523.8" stroke="#000" stroke-width="0.8"/>
<text x="481.87" y="534.70" font-size="8.5" fill="#000" textLength="9.15" lengthAdjust="spacingAndGlyphs">10</text>
<text x="490.66" y="530.70" font-size="6.5" fill="#000" textLength="3.31" lengthAdjust="spacingAndGlyphs">4</text>
<text x="367.00" y="425.54" font-size="8.5" fill="#000" textLength="7.92" lengthAdjust="spacingAndGlyphs" transform="rotate(-90 367.00 425.54)">10</text>
<text x="362.80" y="416.25" font-size="6.5" fill="#000" textLength="3.75" lengthAdjust="spacingAndGlyphs" transform="rotate(-90 362.80 416.25)">4</text>
<text x="418.90" y="542.20" font-size="7" fill="#222" textLength="20.40" lengthAdjust="spacingAndGlyphs">FL2-H</text>
<text x="355.50" y="482.93" font-size="7" fill="#222" textLength="21.46" lengthAdjust="spacingAndGlyphs" transform="rotate(-90 355.50 482.93)">FL3-H</text>
<text x="61.91" y="440.40" font-size="12" font-weight="bold" fill="#000" textLength="17.40" lengthAdjust="spacingAndGlyphs">1.0</text>
<text x="128.55" y="440.60" font-size="12" font-weight="bold" fill="#000" textLength="23.93" lengthAdjust="spacingAndGlyphs">68.8</text>
<text x="62.27" y="514.90" font-size="12" font-weight="bold" fill="#000" textLength="23.90" lengthAdjust="spacingAndGlyphs">24.8</text>
<text x="143.41" y="514.80" font-size="12" font-weight="bold" fill="#000" textLength="17.45" lengthAdjust="spacingAndGlyphs">5.4</text>
<text x="223.28" y="440.60" font-size="12" font-weight="bold" fill="#000" textLength="18.33" lengthAdjust="spacingAndGlyphs">0.8</text>
<text x="288.66" y="440.40" font-size="12" font-weight="bold" fill="#000" textLength="24.46" lengthAdjust="spacingAndGlyphs">74.0</text>
<text x="225.74" y="514.90" font-size="12" font-weight="bold" fill="#000" textLength="23.60" lengthAdjust="spacingAndGlyphs">19.7</text>
<text x="295.02" y="514.80" font-size="12" font-weight="bold" fill="#000" textLength="17.23" lengthAdjust="spacingAndGlyphs">5.5</text>
<text x="378.21" y="440.60" font-size="12" font-weight="bold" fill="#000" textLength="15.30" lengthAdjust="spacingAndGlyphs">1.1</text>
<text x="449.64" y="440.40" font-size="12" font-weight="bold" fill="#000" textLength="22.72" lengthAdjust="spacingAndGlyphs">56.4</text>
<text x="386.23" y="514.90" font-size="12" font-weight="bold" fill="#000" textLength="23.04" lengthAdjust="spacingAndGlyphs">33.4</text>
<text x="459.60" y="514.80" font-size="12" font-weight="bold" fill="#000" textLength="16.12" lengthAdjust="spacingAndGlyphs">9.1</text>
<text x="95.37" y="403.80" font-size="13" font-weight="bold" fill="#000" textLength="40.79" lengthAdjust="spacingAndGlyphs">Ihh+/+</text>
<text x="245.37" y="405.00" font-size="13" font-weight="bold" fill="#000" textLength="37.28" lengthAdjust="spacingAndGlyphs">Ihh+/-</text>
<text x="416.18" y="405.00" font-size="13" font-weight="bold" fill="#000" textLength="33.78" lengthAdjust="spacingAndGlyphs">Ihh-/-</text>
<line x1="27.3" y1="416" x2="27.3" y2="545.5" stroke="#000" stroke-width="2"/>
<path d="M27.3 404.5L34.3 418L20.3 418Z" fill="#000"/>
<line x1="26.3" y1="545.5" x2="485" y2="545.5" stroke="#000" stroke-width="2"/>
<path d="M497.5 545.8L483.5 539.3L483.5 552.3Z" fill="#000"/>
<text x="22.00" y="486.24" font-size="13" font-weight="bold" fill="#000" textLength="26.51" lengthAdjust="spacingAndGlyphs" transform="rotate(-90 22.00 486.24)">CD4</text>
<text x="264.03" y="560.20" font-size="13" font-weight="bold" fill="#000" textLength="27.59" lengthAdjust="spacingAndGlyphs">CD8</text>
<path d="M31 543V407H178V543" fill="none" stroke="#e4e4e4" stroke-width="1"/>
<path d="M188 543V409H335.5V543" fill="none" stroke="#e4e4e4" stroke-width="1"/>
<path d="M348.8 543V408.7H509V543" fill="none" stroke="#e4e4e4" stroke-width="1"/>
<line x1="63.2" y1="619.5" x2="63.2" y2="771.3" stroke="#aaa" stroke-width="1.2"/>
<line x1="63.2" y1="771.3" x2="218.5" y2="771.3" stroke="#888" stroke-width="1.1"/>
<line x1="61.7" y1="619.5" x2="63.2" y2="619.5" stroke="#999" stroke-width="0.8"/>
<text x="50.49" y="622.43" font-size="8.5" fill="#333" textLength="9.29" lengthAdjust="spacingAndGlyphs">2.5</text>
<line x1="61.7" y1="649.9" x2="63.2" y2="649.9" stroke="#999" stroke-width="0.8"/>
<text x="55.72" y="652.83" font-size="8.5" fill="#333" textLength="4.15" lengthAdjust="spacingAndGlyphs">2</text>
<line x1="61.7" y1="680.3" x2="63.2" y2="680.3" stroke="#999" stroke-width="0.8"/>
<text x="51.75" y="683.23" font-size="8.5" fill="#333" textLength="7.99" lengthAdjust="spacingAndGlyphs">1.5</text>
<line x1="61.7" y1="710.7" x2="63.2" y2="710.7" stroke="#999" stroke-width="0.8"/>
<text x="57.10" y="713.63" font-size="8.5" fill="#333" textLength="2.63" lengthAdjust="spacingAndGlyphs">1</text>
<line x1="61.7" y1="741.1" x2="63.2" y2="741.1" stroke="#999" stroke-width="0.8"/>
<text x="50.57" y="744.03" font-size="8.5" fill="#333" textLength="9.21" lengthAdjust="spacingAndGlyphs">0.5</text>
<line x1="61.7" y1="771.5" x2="63.2" y2="771.5" stroke="#999" stroke-width="0.8"/>
<text x="55.82" y="774.43" font-size="8.5" fill="#333" textLength="3.96" lengthAdjust="spacingAndGlyphs">0</text>
<path d="M107.8 699.35l1.08 1.35l-1.08 1.35l-1.08 -1.35z" fill="#000"/>
<path d="M107.8 701.4499999999999l1.08 1.35l-1.08 1.35l-1.08 -1.35z" fill="#000"/>
<path d="M107.8 708.35l1.08 1.35l-1.08 1.35l-1.08 -1.35z" fill="#000"/>
<path d="M107.8 710.65l1.08 1.35l-1.08 1.35l-1.08 -1.35z" fill="#000"/>
<path d="M107.8 712.4499999999999l1.08 1.35l-1.08 1.35l-1.08 -1.35z" fill="#000"/>
<path d="M107.8 718.65l1.08 1.35l-1.08 1.35l-1.08 -1.35z" fill="#000"/>
<path d="M151.7 623.15l1.08 1.35l-1.08 1.35l-1.08 -1.35z" fill="#000"/>
<path d="M151.7 631.15l1.08 1.35l-1.08 1.35l-1.08 -1.35z" fill="#000"/>
<path d="M151.7 639.15l1.08 1.35l-1.08 1.35l-1.08 -1.35z" fill="#000"/>
<path d="M151.7 641.55l1.08 1.35l-1.08 1.35l-1.08 -1.35z" fill="#000"/>
<path d="M151.7 647.65l1.08 1.35l-1.08 1.35l-1.08 -1.35z" fill="#000"/>
<path d="M151.7 666.65l1.08 1.35l-1.08 1.35l-1.08 -1.35z" fill="#000"/>
<path d="M151.7 685.4499999999999l1.08 1.35l-1.08 1.35l-1.08 -1.35z" fill="#000"/>
<path d="M151.7 690.65l1.08 1.35l-1.08 1.35l-1.08 -1.35z" fill="#000"/>
<path d="M151.7 699.35l1.08 1.35l-1.08 1.35l-1.08 -1.35z" fill="#000"/>
<path d="M151.7 703.85l1.08 1.35l-1.08 1.35l-1.08 -1.35z" fill="#000"/>
<path d="M151.7 712.4499999999999l1.08 1.35l-1.08 1.35l-1.08 -1.35z" fill="#000"/>
<path d="M151.7 716.65l1.08 1.35l-1.08 1.35l-1.08 -1.35z" fill="#000"/>
<path d="M151.7 720.15l1.08 1.35l-1.08 1.35l-1.08 -1.35z" fill="#000"/>
<path d="M151.7 724.65l1.08 1.35l-1.08 1.35l-1.08 -1.35z" fill="#000"/>
<path d="M151.7 728.05l1.08 1.35l-1.08 1.35l-1.08 -1.35z" fill="#000"/>
<path d="M151.7 732.25l1.08 1.35l-1.08 1.35l-1.08 -1.35z" fill="#000"/>
<path d="M151.7 735.65l1.08 1.35l-1.08 1.35l-1.08 -1.35z" fill="#000"/>
<path d="M151.7 739.4499999999999l1.08 1.35l-1.08 1.35l-1.08 -1.35z" fill="#000"/>
<path d="M151.7 746.4499999999999l1.08 1.35l-1.08 1.35l-1.08 -1.35z" fill="#000"/>
<path d="M151.7 753.35l1.08 1.35l-1.08 1.35l-1.08 -1.35z" fill="#000"/>
<path d="M151.7 756.65l1.08 1.35l-1.08 1.35l-1.08 -1.35z" fill="#000"/>
<path d="M196.7 702.15l1.08 1.35l-1.08 1.35l-1.08 -1.35z" fill="#000"/>
<path d="M196.7 706.25l1.08 1.35l-1.08 1.35l-1.08 -1.35z" fill="#000"/>
<path d="M196.7 710.65l1.08 1.35l-1.08 1.35l-1.08 -1.35z" fill="#000"/>
<path d="M196.7 715.9499999999999l1.08 1.35l-1.08 1.35l-1.08 -1.35z" fill="#000"/>
<path d="M196.7 722.85l1.08 1.35l-1.08 1.35l-1.08 -1.35z" fill="#000"/>
<path d="M196.7 729.65l1.08 1.35l-1.08 1.35l-1.08 -1.35z" fill="#000"/>
<path d="M196.7 734.9499999999999l1.08 1.35l-1.08 1.35l-1.08 -1.35z" fill="#000"/>
<path d="M196.7 749.85l1.08 1.35l-1.08 1.35l-1.08 -1.35z" fill="#000"/>
<path d="M196.7 752.25l1.08 1.35l-1.08 1.35l-1.08 -1.35z" fill="#000"/>
<path d="M196.7 754.65l1.08 1.35l-1.08 1.35l-1.08 -1.35z" fill="#000"/>
<text x="23.60" y="750.08" font-size="12" font-weight="bold" fill="#000" textLength="125.94" lengthAdjust="spacingAndGlyphs" transform="rotate(-90 23.60 750.08)">Cell number relative to</text>
<text x="37.30" y="720.74" font-size="12" font-weight="bold" fill="#000" textLength="63.86" lengthAdjust="spacingAndGlyphs" transform="rotate(-90 37.30 720.74)">mean of WT</text>
<text x="75.58" y="794.60" font-size="13" font-weight="bold" fill="#000" textLength="40.37" lengthAdjust="spacingAndGlyphs">Ihh+/+</text>
<text x="125.96" y="794.60" font-size="13" font-weight="bold" fill="#000" textLength="37.70" lengthAdjust="spacingAndGlyphs">Ihh+/-</text>
<text x="177.57" y="794.60" font-size="13" font-weight="bold" fill="#000" textLength="34.09" lengthAdjust="spacingAndGlyphs">Ihh-/-</text>
<line x1="329" y1="614.1" x2="329" y2="774.5" stroke="#555" stroke-width="1"/>
<line x1="329" y1="774.5" x2="512.3" y2="774.5" stroke="#555" stroke-width="1"/>
<line x1="326.5" y1="614.1" x2="329" y2="614.1" stroke="#555" stroke-width="0.8"/>
<text x="306.53" y="617.20" font-size="9" fill="#222" textLength="15.64" lengthAdjust="spacingAndGlyphs">2.5</text>
<line x1="326.5" y1="646.1800000000001" x2="329" y2="646.1800000000001" stroke="#555" stroke-width="0.8"/>
<text x="315.81" y="649.28" font-size="9" fill="#222" textLength="6.47" lengthAdjust="spacingAndGlyphs">2</text>
<line x1="326.5" y1="678.26" x2="329" y2="678.26" stroke="#555" stroke-width="0.8"/>
<text x="306.54" y="681.36" font-size="9" fill="#222" textLength="15.63" lengthAdjust="spacingAndGlyphs">1.5</text>
<line x1="326.5" y1="710.34" x2="329" y2="710.34" stroke="#555" stroke-width="0.8"/>
<text x="317.35" y="713.44" font-size="9" fill="#222" textLength="4.77" lengthAdjust="spacingAndGlyphs">1</text>
<line x1="326.5" y1="742.42" x2="329" y2="742.42" stroke="#555" stroke-width="0.8"/>
<text x="306.25" y="745.52" font-size="9" fill="#222" textLength="15.93" lengthAdjust="spacingAndGlyphs">0.5</text>
<line x1="326.5" y1="774.5" x2="329" y2="774.5" stroke="#555" stroke-width="0.8"/>
<text x="315.75" y="777.60" font-size="9" fill="#222" textLength="6.40" lengthAdjust="spacingAndGlyphs">0</text>
<ellipse cx="366.9" cy="702" rx="2.99" ry="2.29" fill="none" stroke="#7a7a7a" stroke-width="0.9"/>
<path d="M366.9 699.4L369.5 702L366.9 704.6L364.29999999999995 702Z" fill="#9a9a9a"/>
<ellipse cx="366.9" cy="704.5" rx="2.99" ry="2.29" fill="none" stroke="#7a7a7a" stroke-width="0.9"/>
<path d="M366.9 701.9L369.5 704.5L366.9 707.1L364.29999999999995 704.5Z" fill="#9a9a9a"/>
<ellipse cx="366.9" cy="707" rx="2.99" ry="2.29" fill="none" stroke="#7a7a7a" stroke-width="0.9"/>
<path d="M366.9 704.4L369.5 707L366.9 709.6L364.29999999999995 707Z" fill="#9a9a9a"/>
<ellipse cx="366.9" cy="709.5" rx="2.99" ry="2.29" fill="none" stroke="#7a7a7a" stroke-width="0.9"/>
<path d="M366.9 706.9L369.5 709.5L366.9 712.1L364.29999999999995 709.5Z" fill="#9a9a9a"/>
<ellipse cx="366.9" cy="712" rx="2.99" ry="2.29" fill="none" stroke="#7a7a7a" stroke-width="0.9"/>
<path d="M366.9 709.4L369.5 712L366.9 714.6L364.29999999999995 712Z" fill="#9a9a9a"/>
<ellipse cx="366.9" cy="714.5" rx="2.99" ry="2.29" fill="none" stroke="#7a7a7a" stroke-width="0.9"/>
<path d="M366.9 711.9L369.5 714.5L366.9 717.1L364.29999999999995 714.5Z" fill="#9a9a9a"/>
<path d="M405 626.4L408 629.4L405 632.4L402 629.4Z" fill="#999"/>
<path d="M405 663.3L408 666.3L405 669.3L402 666.3Z" fill="#999"/>
<path d="M405 683L408 686L405 689L402 686Z" fill="#999"/>
<path d="M405 688.1L408 691.1L405 694.1L402 691.1Z" fill="#999"/>
<ellipse cx="405" cy="707.7" rx="2.99" ry="2.29" fill="none" stroke="#7a7a7a" stroke-width="0.9"/>
<ellipse cx="405" cy="711.8" rx="2.99" ry="2.29" fill="none" stroke="#7a7a7a" stroke-width="0.9"/>
<ellipse cx="405" cy="716.2" rx="2.99" ry="2.29" fill="none" stroke="#7a7a7a" stroke-width="0.9"/>
<ellipse cx="442.3" cy="681.5" rx="2.99" ry="2.29" fill="none" stroke="#7a7a7a" stroke-width="0.9"/>
<ellipse cx="442.3" cy="686.6" rx="2.99" ry="2.29" fill="none" stroke="#7a7a7a" stroke-width="0.9"/>
<ellipse cx="442.3" cy="699" rx="2.99" ry="2.29" fill="none" stroke="#7a7a7a" stroke-width="0.9"/>
<path d="M442.3 696.4L444.90000000000003 699L442.3 701.6L439.7 699Z" fill="#9a9a9a"/>
<ellipse cx="442.3" cy="701.5" rx="2.99" ry="2.29" fill="none" stroke="#7a7a7a" stroke-width="0.9"/>
<path d="M442.3 698.9L444.90000000000003 701.5L442.3 704.1L439.7 701.5Z" fill="#9a9a9a"/>
<ellipse cx="442.3" cy="704" rx="2.99" ry="2.29" fill="none" stroke="#7a7a7a" stroke-width="0.9"/>
<path d="M442.3 701.4L444.90000000000003 704L442.3 706.6L439.7 704Z" fill="#9a9a9a"/>
<ellipse cx="442.3" cy="706.5" rx="2.99" ry="2.29" fill="none" stroke="#7a7a7a" stroke-width="0.9"/>
<path d="M442.3 703.9L444.90000000000003 706.5L442.3 709.1L439.7 706.5Z" fill="#9a9a9a"/>
<ellipse cx="442.3" cy="709" rx="2.99" ry="2.29" fill="none" stroke="#7a7a7a" stroke-width="0.9"/>
<path d="M442.3 706.4L444.90000000000003 709L442.3 711.6L439.7 709Z" fill="#9a9a9a"/>
<path d="M442.3 713.4000000000001L445.1 716.2L442.3 719.0L439.5 716.2Z" fill="#999"/>
<ellipse cx="442.3" cy="716.2" rx="2.99" ry="2.29" fill="none" stroke="#7a7a7a" stroke-width="0.9"/>
<ellipse cx="480" cy="669.2" rx="2.99" ry="2.29" fill="none" stroke="#7a7a7a" stroke-width="0.9"/>
<ellipse cx="480" cy="678.2" rx="2.99" ry="2.29" fill="none" stroke="#7a7a7a" stroke-width="0.9"/>
<ellipse cx="480" cy="694.3" rx="2.99" ry="2.29" fill="none" stroke="#7a7a7a" stroke-width="0.9"/>
<ellipse cx="480" cy="699.5" rx="2.99" ry="2.29" fill="none" stroke="#7a7a7a" stroke-width="0.9"/>
<ellipse cx="480" cy="702" rx="2.99" ry="2.29" fill="none" stroke="#7a7a7a" stroke-width="0.9"/>
<ellipse cx="480" cy="704.5" rx="2.99" ry="2.29" fill="none" stroke="#7a7a7a" stroke-width="0.9"/>
<ellipse cx="480" cy="707" rx="2.99" ry="2.29" fill="none" stroke="#7a7a7a" stroke-width="0.9"/>
<ellipse cx="480" cy="709.5" rx="2.99" ry="2.29" fill="none" stroke="#7a7a7a" stroke-width="0.9"/>
<ellipse cx="480" cy="712" rx="2.99" ry="2.29" fill="none" stroke="#7a7a7a" stroke-width="0.9"/>
<ellipse cx="480" cy="714.5" rx="2.99" ry="2.29" fill="none" stroke="#7a7a7a" stroke-width="0.9"/>
<ellipse cx="480" cy="717" rx="2.99" ry="2.29" fill="none" stroke="#7a7a7a" stroke-width="0.9"/>
<path d="M480 717.2L482.8 720L480 722.8L477.2 720Z" fill="#999"/>
<path d="M480 721.8000000000001L482.8 724.6L480 727.4L477.2 724.6Z" fill="#999"/>
<path d="M480 725.2L482.8 728L480 730.8L477.2 728Z" fill="#999"/>
<path d="M480 728.7L482.8 731.5L480 734.3L477.2 731.5Z" fill="#999"/>
<path d="M480 734.2L482.8 737L480 739.8L477.2 737Z" fill="#999"/>
<path d="M480 740.2L482.8 743L480 745.8L477.2 743Z" fill="#999"/>
<path d="M480 744.2L482.8 747L480 749.8L477.2 747Z" fill="#999"/>
<path d="M480 759.2L482.8 762L480 764.8L477.2 762Z" fill="#999"/>
<path d="M428.7 611.8000000000001L431.5 614.6L428.7 617.4L425.9 614.6Z" fill="#999"/>
<text x="432.56" y="617.50" font-size="8" fill="#222" textLength="85.80" lengthAdjust="spacingAndGlyphs">Cell number relative to</text>
<text x="432.45" y="625.20" font-size="8" fill="#222" textLength="45.45" lengthAdjust="spacingAndGlyphs">mean of WT</text>
<ellipse cx="429.2" cy="631.7" rx="2.88" ry="2.20" fill="none" stroke="#7a7a7a" stroke-width="0.9"/>
<text x="432.69" y="635.80" font-size="8" fill="#222" textLength="88.69" lengthAdjust="spacingAndGlyphs">% cells in cycle relative</text>
<text x="432.45" y="641.50" font-size="8" fill="#222" textLength="45.45" lengthAdjust="spacingAndGlyphs">mean of WT</text>
<text x="279.80" y="773.12" font-size="9" font-weight="bold" fill="#000" textLength="169.52" lengthAdjust="spacingAndGlyphs" transform="rotate(-90 279.80 773.12)">Cell number relative to mean of WT</text>
<text x="291.00" y="791.10" font-size="9" font-weight="bold" fill="#000" textLength="204.31" lengthAdjust="spacingAndGlyphs" transform="rotate(-90 291.00 791.10)" xml:space="preserve">/%cells in S+G2/M relative to mean of  WT</text>
<text x="352.89" y="797.20" font-size="14" font-weight="bold" fill="#000" textLength="21.26" lengthAdjust="spacingAndGlyphs">WT</text>
<text x="394.59" y="797.20" font-size="14" font-weight="bold" fill="#000" textLength="5.01" lengthAdjust="spacingAndGlyphs">I</text>
<text x="425.48" y="797.20" font-size="14" font-weight="bold" fill="#000" textLength="6.85" lengthAdjust="spacingAndGlyphs">II</text>
<text x="457.84" y="797.20" font-size="14" font-weight="bold" fill="#000" textLength="11.91" lengthAdjust="spacingAndGlyphs">III</text>
</svg></body></html>
